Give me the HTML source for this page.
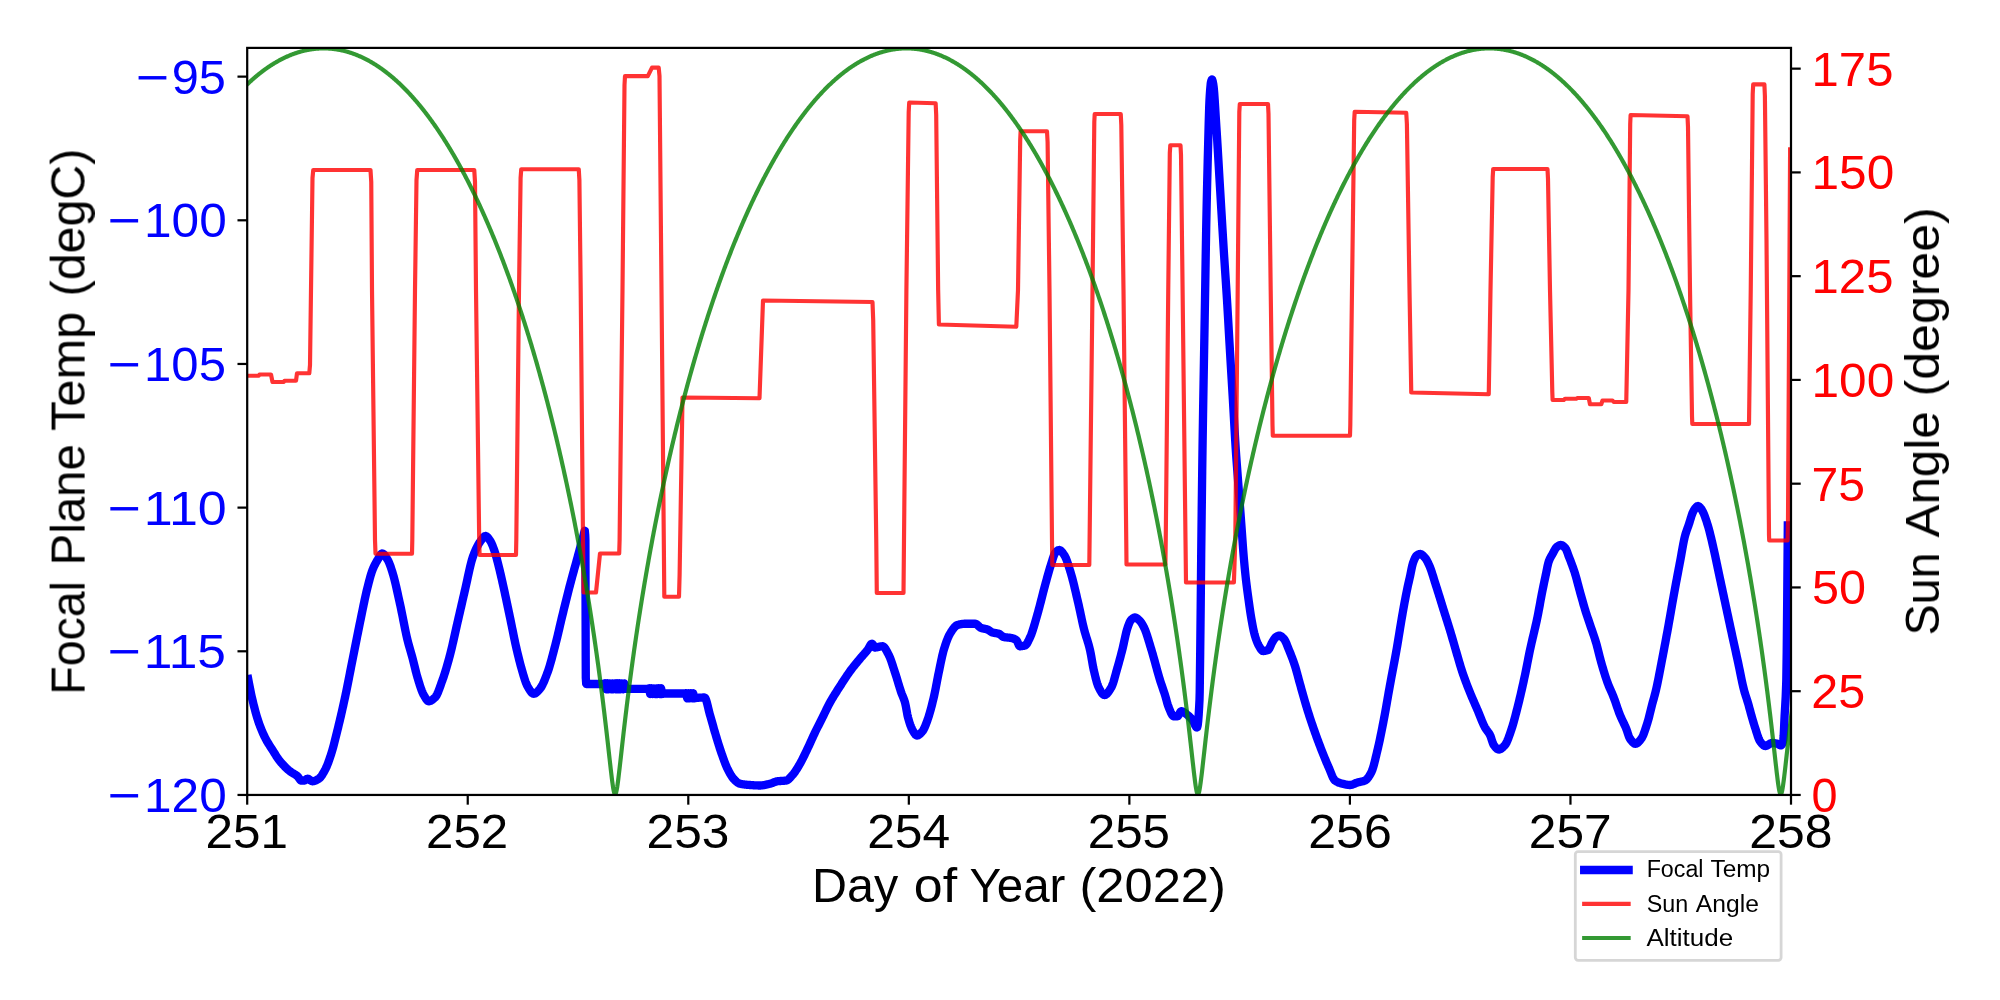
<!DOCTYPE html>
<html><head><meta charset="utf-8"><title>Focal Plane Temp</title>
<style>
html,body{margin:0;padding:0;background:#fff;}
body{width:2000px;height:1000px;overflow:hidden;}
svg{display:block;font-family:"Liberation Sans",sans-serif;}
</style></head><body>
<svg width="2000" height="1000" viewBox="0 0 2000 1000">
<rect x="0" y="0" width="2000" height="1000" fill="#fff"/>
<defs><clipPath id="ax"><rect x="247.20" y="47.90" width="1543.80" height="747.05"/></clipPath></defs>

<g clip-path="url(#ax)" fill="none" stroke-linejoin="round" stroke-linecap="square">
<path d="M248.20,679.00 L248.70,681.68 L249.20,684.32 L249.70,686.90 L250.20,689.42 L250.70,691.86 L251.20,694.24 L251.70,696.53 L252.20,698.73 L252.50,700.00 L252.70,700.83 L253.20,702.89 L253.70,704.91 L254.20,706.89 L254.70,708.82 L255.20,710.71 L255.70,712.54 L256.20,714.32 L256.70,716.05 L257.20,717.72 L257.70,719.33 L258.20,720.88 L258.70,722.36 L258.75,722.50 L259.20,723.78 L259.70,725.16 L260.20,726.50 L260.70,727.80 L261.20,729.06 L261.70,730.28 L262.20,731.47 L262.70,732.62 L263.20,733.74 L263.70,734.83 L264.20,735.88 L264.70,736.90 L265.00,737.50 L265.20,737.89 L265.70,738.85 L266.20,739.78 L266.70,740.68 L267.20,741.55 L267.70,742.40 L268.20,743.23 L268.70,744.04 L269.20,744.84 L269.70,745.63 L270.20,746.42 L270.70,747.19 L271.20,747.97 L271.70,748.75 L272.20,749.53 L272.50,750.00 L272.70,750.32 L273.20,751.11 L273.70,751.91 L274.20,752.72 L274.70,753.52 L275.20,754.32 L275.70,755.11 L276.20,755.89 L276.70,756.66 L277.20,757.42 L277.70,758.16 L278.20,758.88 L278.70,759.57 L279.20,760.24 L279.70,760.88 L280.00,761.25 L280.20,761.49 L280.70,762.09 L281.20,762.67 L281.70,763.25 L282.20,763.81 L282.70,764.36 L283.20,764.91 L283.70,765.44 L284.20,765.96 L284.70,766.47 L285.20,766.97 L285.70,767.46 L286.20,767.94 L286.70,768.41 L287.20,768.87 L287.70,769.32 L288.20,769.76 L288.70,770.19 L289.20,770.60 L289.70,771.01 L290.00,771.25 L290.20,771.41 L290.70,771.78 L291.20,772.12 L291.70,772.45 L292.20,772.76 L292.70,773.07 L293.20,773.36 L293.70,773.65 L294.20,773.95 L294.70,774.25 L295.20,774.56 L295.70,774.89 L296.20,775.23 L296.70,775.60 L297.20,776.00 L297.50,776.25 L297.70,776.44 L298.20,777.04 L298.70,777.76 L299.20,778.52 L299.70,779.25 L300.20,779.87 L300.70,780.31 L301.20,780.50 L301.25,780.50 L301.70,780.50 L302.20,780.50 L302.70,780.50 L303.20,780.50 L303.70,780.50 L304.20,780.50 L304.50,780.50 L304.70,780.48 L305.20,780.26 L305.70,779.88 L306.20,779.45 L306.70,779.06 L307.20,778.80 L307.50,778.75 L307.70,778.76 L308.20,778.88 L308.70,779.11 L309.20,779.42 L309.70,779.78 L310.20,780.15 L310.70,780.51 L311.20,780.83 L311.70,781.08 L312.20,781.22 L312.50,781.25 L312.70,781.25 L313.20,781.21 L313.70,781.12 L314.20,781.01 L314.70,780.85 L315.20,780.67 L315.70,780.45 L316.20,780.21 L316.70,779.96 L317.20,779.68 L317.70,779.39 L318.20,779.09 L318.70,778.78 L318.75,778.75 L319.20,778.43 L319.70,778.00 L320.20,777.49 L320.70,776.91 L321.20,776.27 L321.70,775.57 L322.20,774.82 L322.70,774.02 L323.20,773.19 L323.70,772.33 L324.20,771.44 L324.70,770.54 L325.00,770.00 L325.20,769.63 L325.70,768.64 L326.20,767.58 L326.70,766.45 L327.20,765.25 L327.70,763.98 L328.20,762.66 L328.70,761.30 L329.20,759.88 L329.70,758.43 L330.20,756.95 L330.70,755.44 L331.20,753.90 L331.25,753.75 L331.70,752.32 L332.20,750.66 L332.70,748.91 L333.20,747.10 L333.70,745.23 L334.20,743.30 L334.70,741.34 L335.20,739.34 L335.70,737.32 L336.20,735.29 L336.70,733.25 L337.20,731.22 L337.50,730.00 L337.70,729.19 L338.20,727.15 L338.70,725.10 L339.20,723.02 L339.70,720.93 L340.20,718.82 L340.70,716.68 L341.20,714.53 L341.70,712.36 L342.20,710.17 L342.70,707.95 L343.20,705.72 L343.70,703.46 L344.20,701.19 L344.70,698.89 L345.00,697.50 L345.20,696.57 L345.70,694.21 L346.20,691.80 L346.70,689.36 L347.20,686.89 L347.70,684.39 L348.20,681.88 L348.70,679.34 L349.20,676.79 L349.70,674.23 L350.20,671.67 L350.70,669.12 L351.20,666.57 L351.70,664.03 L352.20,661.50 L352.50,660.00 L352.70,659.00 L353.20,656.49 L353.70,653.97 L354.20,651.45 L354.70,648.92 L355.20,646.39 L355.70,643.87 L356.20,641.34 L356.70,638.82 L357.20,636.31 L357.70,633.81 L358.20,631.32 L358.70,628.85 L359.20,626.39 L359.70,623.95 L360.00,622.50 L360.20,621.53 L360.70,619.10 L361.20,616.65 L361.70,614.19 L362.20,611.74 L362.70,609.28 L363.20,606.85 L363.70,604.43 L364.20,602.04 L364.70,599.69 L365.20,597.38 L365.70,595.11 L366.20,592.91 L366.70,590.77 L367.20,588.70 L367.50,587.50 L367.70,586.71 L368.20,584.73 L368.70,582.77 L369.20,580.84 L369.70,578.96 L370.20,577.15 L370.70,575.40 L371.20,573.75 L371.70,572.21 L372.20,570.79 L372.50,570.00 L372.70,569.50 L373.20,568.28 L373.70,567.14 L374.20,566.05 L374.70,565.01 L375.20,564.03 L375.70,563.09 L376.20,562.19 L376.70,561.32 L377.20,560.49 L377.50,560.00 L377.70,559.67 L378.20,558.80 L378.70,557.90 L379.20,556.99 L379.70,556.11 L380.20,555.31 L380.70,554.61 L381.20,554.05 L381.70,553.67 L382.20,553.51 L382.30,553.50 L382.70,553.56 L383.20,553.77 L383.70,554.13 L384.20,554.61 L384.70,555.20 L385.20,555.87 L385.70,556.61 L386.20,557.39 L386.70,558.20 L387.20,559.02 L387.50,559.50 L387.70,559.83 L388.20,560.76 L388.70,561.81 L389.20,562.97 L389.70,564.23 L390.20,565.57 L390.70,566.99 L391.20,568.47 L391.70,570.00 L392.20,571.55 L392.50,572.50 L392.70,573.14 L393.20,574.83 L393.70,576.62 L394.20,578.50 L394.70,580.47 L395.20,582.52 L395.70,584.63 L396.20,586.80 L396.70,589.01 L397.20,591.25 L397.70,593.52 L398.20,595.81 L398.70,598.10 L399.20,600.38 L399.70,602.65 L400.00,604.00 L400.20,604.90 L400.70,607.22 L401.20,609.61 L401.70,612.05 L402.20,614.54 L402.70,617.06 L403.20,619.59 L403.70,622.13 L404.20,624.65 L404.70,627.15 L405.20,629.60 L405.70,632.01 L406.20,634.34 L406.70,636.60 L407.20,638.76 L407.50,640.00 L407.70,640.81 L408.20,642.75 L408.70,644.62 L409.20,646.42 L409.70,648.17 L410.20,649.90 L410.70,651.61 L411.20,653.34 L411.70,655.09 L412.20,656.89 L412.50,658.00 L412.70,658.76 L413.20,660.70 L413.70,662.71 L414.20,664.75 L414.70,666.81 L415.20,668.86 L415.70,670.87 L416.20,672.83 L416.70,674.71 L417.20,676.49 L417.50,677.50 L417.70,678.16 L418.20,679.80 L418.70,681.44 L419.20,683.06 L419.70,684.65 L420.20,686.20 L420.70,687.70 L421.20,689.13 L421.70,690.49 L422.20,691.76 L422.70,692.93 L423.20,693.98 L423.70,694.91 L423.75,695.00 L424.20,695.78 L424.70,696.65 L425.20,697.52 L425.70,698.35 L426.20,699.12 L426.70,699.80 L427.20,700.39 L427.70,700.84 L428.20,701.13 L428.70,701.25 L428.75,701.25 L429.20,701.22 L429.70,701.13 L430.20,700.98 L430.70,700.78 L431.20,700.52 L431.70,700.22 L432.20,699.88 L432.70,699.51 L433.20,699.11 L433.70,698.68 L434.20,698.24 L434.70,697.78 L435.00,697.50 L435.20,697.30 L435.70,696.69 L436.20,695.95 L436.70,695.07 L437.20,694.09 L437.70,693.00 L438.20,691.82 L438.70,690.57 L439.20,689.26 L439.70,687.90 L440.20,686.50 L440.70,685.09 L441.20,683.66 L441.70,682.24 L442.20,680.83 L442.50,680.00 L442.70,679.45 L443.20,678.03 L443.70,676.57 L444.20,675.06 L444.70,673.51 L445.20,671.92 L445.70,670.29 L446.20,668.63 L446.70,666.93 L447.20,665.20 L447.70,663.44 L448.20,661.65 L448.70,659.83 L449.20,657.99 L449.70,656.13 L450.00,655.00 L450.20,654.24 L450.70,652.29 L451.20,650.28 L451.70,648.21 L452.20,646.09 L452.70,643.93 L453.20,641.73 L453.70,639.50 L454.20,637.26 L454.70,635.00 L455.20,632.74 L455.70,630.49 L456.20,628.24 L456.70,626.01 L457.20,623.81 L457.50,622.50 L457.70,621.63 L458.20,619.46 L458.70,617.29 L459.20,615.12 L459.70,612.95 L460.20,610.78 L460.70,608.61 L461.20,606.44 L461.70,604.27 L462.20,602.10 L462.70,599.93 L463.20,597.77 L463.70,595.60 L464.20,593.45 L464.70,591.29 L465.00,590.00 L465.20,589.13 L465.70,586.92 L466.20,584.66 L466.70,582.36 L467.20,580.03 L467.70,577.70 L468.20,575.38 L468.70,573.08 L469.20,570.82 L469.70,568.61 L470.20,566.48 L470.70,564.43 L471.20,562.48 L471.70,560.65 L472.20,558.95 L472.50,558.00 L472.70,557.39 L473.20,555.93 L473.70,554.54 L474.20,553.22 L474.70,551.98 L475.20,550.80 L475.70,549.67 L476.20,548.61 L476.50,548.00 L476.70,547.60 L477.20,546.62 L477.70,545.68 L478.20,544.78 L478.70,543.91 L479.20,543.08 L479.70,542.30 L480.20,541.57 L480.70,540.88 L481.00,540.50 L481.20,540.25 L481.70,539.58 L482.20,538.90 L482.70,538.24 L483.20,537.61 L483.70,537.04 L484.20,536.58 L484.70,536.23 L485.20,536.03 L485.50,536.00 L485.70,536.01 L486.20,536.16 L486.70,536.46 L487.20,536.88 L487.70,537.41 L488.20,538.01 L488.70,538.67 L489.20,539.37 L489.70,540.08 L490.00,540.50 L490.20,540.79 L490.70,541.62 L491.20,542.58 L491.70,543.65 L492.20,544.81 L492.70,546.06 L493.20,547.38 L493.70,548.74 L494.20,550.15 L494.50,551.00 L494.70,551.58 L495.20,553.13 L495.70,554.80 L496.20,556.58 L496.70,558.43 L497.20,560.35 L497.70,562.32 L498.20,564.31 L498.70,566.31 L499.00,567.50 L499.20,568.30 L499.70,570.34 L500.20,572.43 L500.70,574.57 L501.20,576.75 L501.70,578.95 L502.20,581.17 L502.50,582.50 L502.70,583.39 L503.20,585.64 L503.70,587.90 L504.20,590.19 L504.70,592.49 L505.20,594.81 L505.70,597.15 L506.20,599.49 L506.70,601.85 L507.20,604.21 L507.70,606.58 L508.20,608.96 L508.70,611.33 L509.20,613.71 L509.70,616.08 L510.00,617.50 L510.20,618.45 L510.70,620.86 L511.20,623.29 L511.70,625.75 L512.20,628.23 L512.70,630.70 L513.20,633.17 L513.70,635.62 L514.20,638.05 L514.70,640.44 L515.20,642.78 L515.70,645.06 L516.20,647.28 L516.25,647.50 L516.70,649.45 L517.20,651.60 L517.70,653.72 L518.20,655.81 L518.70,657.86 L519.20,659.87 L519.70,661.82 L520.20,663.72 L520.70,665.56 L521.20,667.33 L521.25,667.50 L521.70,669.06 L522.20,670.81 L522.70,672.56 L523.20,674.30 L523.70,676.01 L524.20,677.66 L524.70,679.26 L525.20,680.77 L525.70,682.19 L526.20,683.49 L526.70,684.67 L527.20,685.71 L527.50,686.25 L527.70,686.59 L528.20,687.46 L528.70,688.32 L529.20,689.16 L529.70,689.97 L530.20,690.73 L530.70,691.44 L531.20,692.08 L531.70,692.63 L532.20,693.09 L532.70,693.44 L533.20,693.66 L533.70,693.75 L533.75,693.75 L534.20,693.71 L534.70,693.58 L535.20,693.37 L535.70,693.08 L536.20,692.72 L536.70,692.31 L537.20,691.84 L537.70,691.34 L538.20,690.81 L538.70,690.25 L539.20,689.68 L539.70,689.10 L540.00,688.75 L540.20,688.51 L540.70,687.85 L541.20,687.09 L541.70,686.25 L542.20,685.33 L542.70,684.34 L543.20,683.28 L543.70,682.17 L544.20,681.00 L544.70,679.79 L545.20,678.54 L545.70,677.26 L546.20,675.96 L546.70,674.64 L547.20,673.30 L547.50,672.50 L547.70,671.96 L548.20,670.54 L548.70,669.05 L549.20,667.48 L549.70,665.84 L550.20,664.15 L550.70,662.40 L551.20,660.61 L551.70,658.78 L552.20,656.92 L552.70,655.04 L553.20,653.14 L553.70,651.22 L554.20,649.31 L554.70,647.39 L555.00,646.25 L555.20,645.48 L555.70,643.54 L556.20,641.54 L556.70,639.51 L557.20,637.44 L557.70,635.35 L558.20,633.23 L558.70,631.10 L559.20,628.96 L559.70,626.81 L560.20,624.67 L560.70,622.53 L561.20,620.41 L561.70,618.31 L562.20,616.23 L562.50,615.00 L562.70,614.18 L563.20,612.14 L563.70,610.10 L564.20,608.07 L564.70,606.03 L565.20,604.00 L565.70,601.98 L566.20,599.96 L566.70,597.95 L567.20,595.96 L567.70,593.97 L568.20,591.99 L568.70,590.03 L569.20,588.08 L569.70,586.15 L570.00,585.00 L570.20,584.24 L570.70,582.34 L571.20,580.47 L571.70,578.61 L572.20,576.76 L572.70,574.93 L573.20,573.10 L573.70,571.29 L574.20,569.48 L574.70,567.67 L575.20,565.86 L575.70,564.05 L576.20,562.24 L576.70,560.43 L577.20,558.60 L577.50,557.50 L577.70,556.76 L578.20,554.92 L578.70,553.08 L579.20,551.23 L579.70,549.38 L580.20,547.52 L580.70,545.67 L581.20,543.83 L581.70,541.98 L582.20,540.15 L582.70,538.32 L583.20,536.49 L583.70,534.68 L583.75,534.50 L584.20,532.49 L584.70,530.81 L584.80,530.75 L585.20,534.81 L585.40,540.00 L585.70,655.68 L585.80,678.00 L586.20,683.76 L586.30,684.00 L586.70,684.00 L587.20,684.00 L587.70,684.00 L588.20,684.00 L588.70,684.00 L589.20,684.00 L589.70,684.00 L590.20,684.00 L590.70,684.00 L591.20,684.00 L591.70,684.00 L592.20,684.00 L592.70,684.00 L593.20,684.00 L593.70,684.00 L594.20,684.00 L594.70,684.00 L595.20,684.00 L595.70,684.00 L596.20,684.00 L596.70,684.00 L597.20,684.00 L597.70,684.00 L598.20,684.00 L598.70,684.00 L599.20,684.00 L599.70,684.00 L600.20,684.00 L600.70,684.00 L601.20,684.00 L601.70,684.00 L602.20,684.00 L602.70,684.00 L603.20,684.00 L603.70,684.00 L604.00,684.00 L604.20,683.93 L604.70,683.45 L605.00,683.30 L605.20,683.74 L605.70,687.04 L606.20,689.30 L606.70,687.04 L607.20,683.74 L607.40,683.30 L607.70,684.24 L608.20,687.74 L608.60,689.30 L608.70,689.18 L609.20,686.30 L609.70,683.42 L609.80,683.30 L610.20,684.86 L610.70,688.36 L611.00,689.30 L611.20,688.86 L611.70,685.56 L612.20,683.30 L612.20,683.30 L612.70,685.56 L613.20,688.86 L613.40,689.30 L613.70,688.36 L614.20,684.86 L614.60,683.30 L614.70,683.42 L615.20,686.30 L615.70,689.18 L615.80,689.30 L616.20,687.74 L616.70,684.24 L617.00,683.30 L617.20,683.74 L617.70,687.04 L618.20,689.30 L618.20,689.30 L618.70,687.04 L619.20,683.74 L619.40,683.30 L619.70,684.24 L620.20,687.74 L620.60,689.30 L620.70,689.18 L621.20,686.30 L621.70,683.42 L621.80,683.30 L622.20,684.86 L622.70,688.36 L623.00,689.30 L623.20,688.86 L623.70,685.56 L624.20,683.30 L624.20,683.30 L624.70,684.34 L625.20,686.51 L625.70,688.39 L626.00,688.80 L626.20,688.80 L626.70,688.80 L627.20,688.80 L627.70,688.80 L628.20,688.80 L628.70,688.80 L629.20,688.80 L629.70,688.80 L630.20,688.80 L630.70,688.80 L631.20,688.80 L631.70,688.80 L632.20,688.80 L632.70,688.80 L633.20,688.80 L633.70,688.80 L634.20,688.80 L634.70,688.80 L635.20,688.80 L635.70,688.80 L636.20,688.80 L636.70,688.80 L637.20,688.80 L637.70,688.80 L638.20,688.80 L638.70,688.80 L639.20,688.80 L639.70,688.80 L640.20,688.80 L640.70,688.80 L641.20,688.80 L641.70,688.80 L642.20,688.80 L642.70,688.80 L643.20,688.80 L643.70,688.80 L644.20,688.80 L644.70,688.80 L645.20,688.80 L645.70,688.80 L646.20,688.80 L646.70,688.80 L647.20,688.80 L647.70,688.80 L648.00,688.80 L648.20,688.75 L648.70,688.41 L649.00,688.30 L649.20,688.72 L649.70,691.86 L650.20,694.00 L650.70,691.86 L651.20,688.72 L651.40,688.30 L651.70,689.19 L652.20,692.52 L652.60,694.00 L652.70,693.89 L653.20,691.15 L653.70,688.41 L653.80,688.30 L654.20,689.78 L654.70,693.11 L655.00,694.00 L655.20,693.58 L655.70,690.44 L656.20,688.30 L656.20,688.30 L656.70,690.44 L657.20,693.58 L657.40,694.00 L657.70,693.11 L658.20,689.78 L658.60,688.30 L658.70,688.41 L659.20,691.15 L659.70,693.89 L659.80,694.00 L660.20,692.52 L660.70,689.19 L661.00,688.30 L661.20,688.72 L661.70,691.86 L662.20,694.00 L662.20,694.00 L662.70,693.91 L663.20,693.71 L663.70,693.54 L664.00,693.50 L664.20,693.50 L664.70,693.50 L665.20,693.50 L665.70,693.50 L666.20,693.50 L666.70,693.50 L667.20,693.50 L667.70,693.50 L668.20,693.50 L668.70,693.50 L669.20,693.50 L669.70,693.50 L670.20,693.50 L670.70,693.50 L671.20,693.50 L671.70,693.50 L672.20,693.50 L672.70,693.50 L673.20,693.50 L673.70,693.50 L674.20,693.50 L674.70,693.50 L675.20,693.50 L675.70,693.50 L676.20,693.50 L676.70,693.50 L677.20,693.50 L677.70,693.50 L678.20,693.50 L678.70,693.50 L679.20,693.50 L679.70,693.50 L680.20,693.50 L680.70,693.50 L681.20,693.50 L681.70,693.50 L682.20,693.50 L682.70,693.50 L683.20,693.50 L683.70,693.50 L684.20,693.50 L684.70,693.50 L685.00,693.50 L685.20,693.47 L685.70,693.26 L686.00,693.20 L686.20,693.58 L686.70,696.38 L687.20,698.30 L687.70,696.38 L688.20,693.58 L688.40,693.20 L688.70,694.00 L689.20,696.98 L689.60,698.30 L689.70,698.20 L690.20,695.75 L690.70,693.30 L690.80,693.20 L691.20,694.52 L691.70,697.50 L692.00,698.30 L692.20,697.92 L692.70,695.12 L693.20,693.20 L693.20,693.20 L693.70,695.12 L694.20,697.92 L694.40,698.30 L694.70,698.28 L695.20,698.17 L695.70,698.05 L696.00,698.00 L696.20,697.98 L696.70,697.93 L697.20,697.88 L697.70,697.84 L698.20,697.79 L698.70,697.75 L699.20,697.71 L699.70,697.68 L700.20,697.65 L700.70,697.61 L701.20,697.59 L701.70,697.56 L702.20,697.54 L702.70,697.53 L703.20,697.51 L703.70,697.51 L704.20,697.50 L704.50,697.50 L704.70,697.54 L705.20,698.02 L705.70,698.95 L706.20,700.27 L706.70,701.90 L707.20,703.76 L707.70,705.78 L708.20,707.89 L708.70,710.00 L709.20,712.05 L709.70,713.95 L710.00,715.00 L710.20,715.67 L710.70,717.38 L711.20,719.12 L711.70,720.89 L712.20,722.67 L712.70,724.46 L713.20,726.24 L713.70,728.02 L714.20,729.77 L714.70,731.49 L715.00,732.50 L715.20,733.17 L715.70,734.85 L716.20,736.52 L716.70,738.19 L717.20,739.84 L717.70,741.49 L718.20,743.12 L718.70,744.73 L719.20,746.31 L719.70,747.87 L720.20,749.40 L720.70,750.90 L721.20,752.36 L721.25,752.50 L721.70,753.79 L722.20,755.23 L722.70,756.65 L723.20,758.06 L723.70,759.46 L724.20,760.82 L724.70,762.16 L725.20,763.45 L725.70,764.71 L726.20,765.91 L726.70,767.05 L727.20,768.13 L727.50,768.75 L727.70,769.15 L728.20,770.14 L728.70,771.12 L729.20,772.07 L729.70,773.00 L730.20,773.90 L730.70,774.76 L731.20,775.58 L731.70,776.36 L732.20,777.09 L732.70,777.77 L733.20,778.39 L733.70,778.95 L733.75,779.00 L734.20,779.47 L734.70,779.98 L735.20,780.48 L735.70,780.96 L736.20,781.43 L736.70,781.86 L737.20,782.27 L737.70,782.64 L738.20,782.97 L738.70,783.26 L739.20,783.49 L739.70,783.67 L740.00,783.75 L740.20,783.79 L740.70,783.90 L741.20,784.00 L741.70,784.10 L742.20,784.18 L742.70,784.26 L743.20,784.34 L743.70,784.41 L744.20,784.47 L744.70,784.54 L745.20,784.59 L745.70,784.65 L746.20,784.69 L746.70,784.74 L747.20,784.79 L747.70,784.83 L748.20,784.87 L748.70,784.91 L749.20,784.94 L749.70,784.98 L750.00,785.00 L750.20,785.01 L750.70,785.05 L751.20,785.09 L751.70,785.12 L752.20,785.16 L752.70,785.19 L753.20,785.23 L753.70,785.26 L754.20,785.29 L754.70,785.32 L755.20,785.35 L755.70,785.38 L756.20,785.40 L756.70,785.42 L757.20,785.44 L757.70,785.46 L758.20,785.48 L758.70,785.49 L759.20,785.50 L759.70,785.50 L760.00,785.50 L760.20,785.50 L760.70,785.49 L761.20,785.46 L761.70,785.42 L762.20,785.37 L762.70,785.31 L763.20,785.24 L763.70,785.16 L764.20,785.07 L764.70,784.98 L765.20,784.87 L765.70,784.77 L766.20,784.66 L766.70,784.54 L767.20,784.42 L767.70,784.30 L768.20,784.18 L768.70,784.06 L769.20,783.94 L769.70,783.82 L770.00,783.75 L770.20,783.70 L770.70,783.56 L771.20,783.40 L771.70,783.23 L772.20,783.04 L772.70,782.84 L773.20,782.64 L773.70,782.43 L774.20,782.23 L774.70,782.03 L775.20,781.85 L775.70,781.68 L776.20,781.53 L776.70,781.40 L777.20,781.30 L777.50,781.25 L777.70,781.22 L778.20,781.16 L778.70,781.11 L779.20,781.07 L779.70,781.03 L780.20,781.00 L780.70,780.97 L781.20,780.94 L781.70,780.91 L782.20,780.89 L782.70,780.86 L783.20,780.83 L783.70,780.79 L784.20,780.75 L784.70,780.70 L785.20,780.65 L785.70,780.58 L786.20,780.51 L786.25,780.50 L786.70,780.39 L787.20,780.18 L787.70,779.89 L788.20,779.54 L788.70,779.12 L789.20,778.66 L789.70,778.15 L790.20,777.61 L790.70,777.05 L791.20,776.48 L791.70,775.90 L792.20,775.33 L792.50,775.00 L792.70,774.78 L793.20,774.19 L793.70,773.57 L794.20,772.92 L794.70,772.24 L795.20,771.53 L795.70,770.79 L796.20,770.03 L796.70,769.25 L797.20,768.45 L797.70,767.63 L798.20,766.80 L798.70,765.96 L799.20,765.12 L799.70,764.26 L800.00,763.75 L800.20,763.40 L800.70,762.52 L801.20,761.60 L801.70,760.66 L802.20,759.70 L802.70,758.72 L803.20,757.71 L803.70,756.70 L804.20,755.67 L804.70,754.63 L805.20,753.58 L805.70,752.53 L806.20,751.47 L806.70,750.42 L807.20,749.38 L807.50,748.75 L807.70,748.33 L808.20,747.28 L808.70,746.21 L809.20,745.13 L809.70,744.04 L810.20,742.94 L810.70,741.84 L811.20,740.74 L811.70,739.63 L812.20,738.53 L812.70,737.43 L813.20,736.34 L813.70,735.26 L814.20,734.18 L814.70,733.13 L815.00,732.50 L815.20,732.08 L815.70,731.05 L816.20,730.03 L816.70,729.02 L817.20,728.01 L817.70,727.01 L818.20,726.02 L818.70,725.02 L819.20,724.03 L819.70,723.05 L820.20,722.06 L820.70,721.07 L821.20,720.09 L821.70,719.09 L822.20,718.10 L822.50,717.50 L822.70,717.10 L823.20,716.09 L823.70,715.07 L824.20,714.04 L824.70,713.01 L825.20,711.98 L825.70,710.94 L826.20,709.92 L826.70,708.90 L827.20,707.88 L827.70,706.88 L828.20,705.89 L828.70,704.92 L829.20,703.97 L829.70,703.05 L830.00,702.50 L830.20,702.14 L830.70,701.25 L831.20,700.38 L831.70,699.51 L832.20,698.66 L832.70,697.82 L833.20,696.99 L833.70,696.17 L834.20,695.36 L834.70,694.55 L835.20,693.75 L835.70,692.96 L836.20,692.17 L836.70,691.39 L837.20,690.61 L837.70,689.83 L838.20,689.05 L838.70,688.27 L839.20,687.50 L839.70,686.72 L840.00,686.25 L840.20,685.94 L840.70,685.16 L841.20,684.38 L841.70,683.60 L842.20,682.82 L842.70,682.04 L843.20,681.27 L843.70,680.49 L844.20,679.73 L844.70,678.96 L845.20,678.20 L845.70,677.45 L846.20,676.70 L846.70,675.95 L847.20,675.22 L847.70,674.49 L848.20,673.77 L848.70,673.06 L849.20,672.35 L849.70,671.66 L850.00,671.25 L850.20,670.98 L850.70,670.30 L851.20,669.64 L851.70,668.98 L852.20,668.33 L852.70,667.69 L853.20,667.05 L853.70,666.42 L854.20,665.79 L854.70,665.17 L855.20,664.56 L855.70,663.94 L856.20,663.33 L856.70,662.73 L857.20,662.12 L857.70,661.52 L858.20,660.92 L858.70,660.31 L859.20,659.71 L859.70,659.11 L860.00,658.75 L860.20,658.51 L860.70,657.92 L861.20,657.34 L861.70,656.76 L862.20,656.19 L862.70,655.63 L863.20,655.06 L863.70,654.50 L864.20,653.93 L864.70,653.36 L865.20,652.79 L865.70,652.20 L866.20,651.61 L866.70,651.00 L867.20,650.38 L867.50,650.00 L867.70,649.73 L868.20,648.96 L868.70,648.08 L869.20,647.16 L869.70,646.25 L870.20,645.40 L870.70,644.67 L871.20,644.12 L871.70,643.81 L872.00,643.75 L872.20,643.80 L872.70,644.27 L873.20,645.07 L873.70,646.00 L874.20,646.84 L874.70,647.39 L875.00,647.50 L875.20,647.50 L875.70,647.47 L876.20,647.41 L876.70,647.34 L877.20,647.24 L877.70,647.13 L878.20,647.01 L878.70,646.89 L879.20,646.76 L879.70,646.64 L880.20,646.53 L880.70,646.43 L881.20,646.35 L881.70,646.29 L882.20,646.26 L882.50,646.25 L882.70,646.26 L883.20,646.42 L883.70,646.75 L884.20,647.21 L884.70,647.80 L885.20,648.50 L885.70,649.29 L886.20,650.15 L886.70,651.07 L887.20,652.02 L887.70,652.99 L888.20,653.95 L888.70,654.91 L888.75,655.00 L889.20,655.89 L889.70,657.00 L890.20,658.21 L890.70,659.52 L891.20,660.91 L891.70,662.36 L892.20,663.85 L892.70,665.39 L893.20,666.95 L893.70,668.51 L894.20,670.06 L894.70,671.60 L895.00,672.50 L895.20,673.10 L895.70,674.64 L896.20,676.23 L896.70,677.85 L897.20,679.50 L897.70,681.16 L898.20,682.83 L898.70,684.49 L899.20,686.13 L899.70,687.75 L900.20,689.34 L900.70,690.87 L901.20,692.36 L901.25,692.50 L901.70,693.74 L902.20,695.00 L902.70,696.19 L903.20,697.38 L903.70,698.63 L904.20,699.97 L904.70,701.49 L905.00,702.50 L905.20,703.26 L905.70,705.56 L906.20,708.25 L906.70,711.09 L907.20,713.85 L907.70,716.29 L908.00,717.50 L908.20,718.22 L908.70,719.97 L909.20,721.64 L909.70,723.22 L910.20,724.70 L910.70,726.07 L911.20,727.33 L911.70,728.46 L912.20,729.47 L912.50,730.00 L912.70,730.34 L913.20,731.21 L913.70,732.06 L914.20,732.88 L914.70,733.63 L915.20,734.30 L915.70,734.84 L916.20,735.24 L916.70,735.46 L917.00,735.50 L917.20,735.49 L917.70,735.40 L918.20,735.22 L918.70,734.95 L919.20,734.62 L919.70,734.22 L920.20,733.76 L920.70,733.26 L921.20,732.73 L921.70,732.17 L922.20,731.60 L922.50,731.25 L922.70,731.00 L923.20,730.28 L923.70,729.41 L924.20,728.42 L924.70,727.32 L925.20,726.13 L925.70,724.87 L926.20,723.55 L926.70,722.20 L927.20,720.82 L927.50,720.00 L927.70,719.44 L928.20,717.99 L928.70,716.46 L929.20,714.86 L929.70,713.18 L930.20,711.43 L930.70,709.62 L931.20,707.75 L931.70,705.83 L932.20,703.86 L932.70,701.85 L933.20,699.80 L933.70,697.71 L933.75,697.50 L934.20,695.53 L934.70,693.20 L935.20,690.75 L935.70,688.20 L936.20,685.59 L936.70,682.95 L937.20,680.32 L937.70,677.71 L938.20,675.18 L938.70,672.74 L938.75,672.50 L939.20,670.34 L939.70,667.91 L940.20,665.45 L940.70,663.01 L941.20,660.61 L941.70,658.27 L942.20,656.03 L942.70,653.92 L943.20,651.95 L943.70,650.17 L943.75,650.00 L944.20,648.52 L944.70,646.91 L945.20,645.36 L945.70,643.85 L946.20,642.40 L946.70,641.02 L947.20,639.70 L947.70,638.45 L948.20,637.28 L948.70,636.18 L949.20,635.17 L949.70,634.26 L950.00,633.75 L950.20,633.42 L950.70,632.62 L951.20,631.82 L951.70,631.04 L952.20,630.28 L952.70,629.54 L953.20,628.84 L953.70,628.18 L954.20,627.57 L954.70,627.00 L955.20,626.49 L955.70,626.04 L956.20,625.65 L956.70,625.34 L957.20,625.10 L957.50,625.00 L957.70,624.94 L958.20,624.80 L958.70,624.67 L959.20,624.54 L959.70,624.42 L960.20,624.31 L960.70,624.20 L961.20,624.11 L961.70,624.03 L962.20,623.95 L962.70,623.89 L963.20,623.84 L963.70,623.80 L964.20,623.77 L964.70,623.75 L965.00,623.75 L965.20,623.75 L965.70,623.75 L966.20,623.75 L966.70,623.75 L967.20,623.75 L967.70,623.75 L968.20,623.75 L968.70,623.75 L969.20,623.75 L969.70,623.75 L970.20,623.75 L970.70,623.75 L971.20,623.75 L971.70,623.75 L972.20,623.75 L972.70,623.75 L973.20,623.75 L973.70,623.75 L974.20,623.75 L974.70,623.75 L975.00,623.75 L975.20,623.76 L975.70,623.87 L976.20,624.09 L976.70,624.40 L977.20,624.78 L977.70,625.21 L978.20,625.67 L978.70,626.14 L979.20,626.60 L979.70,627.03 L980.20,627.42 L980.70,627.74 L981.20,627.98 L981.25,628.00 L981.70,628.15 L982.20,628.29 L982.70,628.42 L983.20,628.53 L983.70,628.63 L984.20,628.72 L984.70,628.82 L985.20,628.91 L985.70,629.01 L986.20,629.12 L986.70,629.25 L987.20,629.40 L987.50,629.50 L987.70,629.58 L988.20,629.81 L988.70,630.11 L989.20,630.45 L989.70,630.81 L990.20,631.17 L990.70,631.53 L991.20,631.87 L991.70,632.16 L992.20,632.39 L992.50,632.50 L992.70,632.56 L993.20,632.69 L993.70,632.80 L994.20,632.90 L994.70,632.98 L995.20,633.06 L995.70,633.13 L996.20,633.20 L996.70,633.28 L997.20,633.37 L997.70,633.47 L998.20,633.59 L998.70,633.73 L998.75,633.75 L999.20,633.93 L999.70,634.22 L1000.20,634.57 L1000.70,634.97 L1001.20,635.38 L1001.70,635.80 L1002.20,636.19 L1002.70,636.53 L1003.20,636.81 L1003.70,636.99 L1003.75,637.00 L1004.20,637.10 L1004.70,637.19 L1005.20,637.27 L1005.70,637.34 L1006.20,637.40 L1006.70,637.45 L1007.20,637.50 L1007.70,637.54 L1008.20,637.59 L1008.70,637.63 L1009.20,637.69 L1009.70,637.75 L1010.20,637.82 L1010.70,637.90 L1011.20,637.99 L1011.25,638.00 L1011.70,638.10 L1012.20,638.22 L1012.70,638.36 L1013.20,638.52 L1013.70,638.69 L1014.20,638.90 L1014.70,639.12 L1015.20,639.37 L1015.70,639.65 L1016.20,639.97 L1016.25,640.00 L1016.70,640.48 L1017.20,641.35 L1017.70,642.44 L1018.20,643.61 L1018.70,644.71 L1019.20,645.61 L1019.70,646.15 L1020.00,646.25 L1020.20,646.25 L1020.70,646.23 L1021.20,646.20 L1021.70,646.15 L1022.20,646.09 L1022.70,646.01 L1023.20,645.92 L1023.70,645.82 L1024.20,645.71 L1024.70,645.58 L1025.00,645.50 L1025.20,645.43 L1025.70,645.11 L1026.20,644.60 L1026.70,643.94 L1027.20,643.15 L1027.70,642.25 L1028.20,641.28 L1028.70,640.25 L1029.20,639.19 L1029.70,638.13 L1030.00,637.50 L1030.20,637.08 L1030.70,635.93 L1031.20,634.69 L1031.70,633.34 L1032.20,631.91 L1032.70,630.40 L1033.20,628.82 L1033.70,627.19 L1034.20,625.51 L1034.70,623.80 L1035.20,622.06 L1035.70,620.30 L1036.20,618.54 L1036.70,616.78 L1037.20,615.04 L1037.50,614.00 L1037.70,613.31 L1038.20,611.54 L1038.70,609.72 L1039.20,607.86 L1039.70,605.97 L1040.20,604.04 L1040.70,602.10 L1041.20,600.14 L1041.70,598.17 L1042.20,596.20 L1042.70,594.24 L1043.20,592.29 L1043.70,590.36 L1044.20,588.46 L1044.70,586.60 L1045.00,585.50 L1045.20,584.77 L1045.70,582.94 L1046.20,581.10 L1046.70,579.26 L1047.20,577.43 L1047.70,575.61 L1048.20,573.81 L1048.70,572.04 L1049.20,570.31 L1049.70,568.63 L1050.20,566.99 L1050.70,565.41 L1051.00,564.50 L1051.20,563.89 L1051.70,562.31 L1052.20,560.70 L1052.70,559.10 L1053.20,557.55 L1053.70,556.10 L1054.20,554.81 L1054.70,553.72 L1055.20,552.87 L1055.50,552.50 L1055.70,552.29 L1056.20,551.79 L1056.70,551.31 L1057.20,550.89 L1057.70,550.53 L1058.20,550.26 L1058.70,550.07 L1059.20,550.00 L1059.25,550.00 L1059.70,550.06 L1060.20,550.26 L1060.70,550.59 L1061.20,551.03 L1061.70,551.56 L1062.20,552.17 L1062.70,552.84 L1063.20,553.55 L1063.70,554.29 L1064.20,555.05 L1064.50,555.50 L1064.70,555.81 L1065.20,556.71 L1065.70,557.75 L1066.20,558.92 L1066.70,560.20 L1067.20,561.58 L1067.70,563.04 L1068.20,564.57 L1068.70,566.15 L1069.20,567.76 L1069.70,569.39 L1070.20,571.03 L1070.50,572.00 L1070.70,572.65 L1071.20,574.35 L1071.70,576.11 L1072.20,577.95 L1072.70,579.85 L1073.20,581.80 L1073.70,583.81 L1074.20,585.85 L1074.70,587.93 L1075.20,590.03 L1075.70,592.16 L1076.20,594.30 L1076.70,596.44 L1077.20,598.59 L1077.70,600.72 L1078.00,602.00 L1078.20,602.86 L1078.70,605.05 L1079.20,607.31 L1079.70,609.62 L1080.20,611.96 L1080.70,614.32 L1081.20,616.67 L1081.70,619.00 L1082.20,621.30 L1082.70,623.54 L1083.20,625.71 L1083.70,627.80 L1084.00,629.00 L1084.20,629.78 L1084.70,631.63 L1085.20,633.38 L1085.70,635.06 L1086.20,636.68 L1086.70,638.28 L1087.20,639.87 L1087.70,641.49 L1088.20,643.16 L1088.70,644.91 L1089.20,646.76 L1089.70,648.74 L1090.00,650.00 L1090.20,650.89 L1090.70,653.37 L1091.20,656.10 L1091.70,658.99 L1092.20,661.91 L1092.70,664.76 L1093.20,667.42 L1093.70,669.78 L1093.75,670.00 L1094.20,671.92 L1094.70,674.03 L1095.20,676.11 L1095.70,678.12 L1096.20,680.03 L1096.70,681.83 L1097.20,683.50 L1097.70,684.99 L1098.20,686.30 L1098.70,687.40 L1098.75,687.50 L1099.20,688.37 L1099.70,689.32 L1100.20,690.25 L1100.70,691.14 L1101.20,691.97 L1101.70,692.74 L1102.20,693.42 L1102.70,694.00 L1103.20,694.46 L1103.70,694.79 L1104.20,694.97 L1104.50,695.00 L1104.70,694.99 L1105.20,694.88 L1105.70,694.66 L1106.20,694.34 L1106.70,693.93 L1107.20,693.44 L1107.70,692.87 L1108.20,692.23 L1108.70,691.54 L1109.20,690.80 L1109.70,690.03 L1110.20,689.23 L1110.70,688.41 L1111.20,687.58 L1111.25,687.50 L1111.70,686.66 L1112.20,685.54 L1112.70,684.24 L1113.20,682.78 L1113.70,681.19 L1114.20,679.50 L1114.70,677.73 L1115.20,675.90 L1115.70,674.04 L1116.20,672.18 L1116.70,670.34 L1117.20,668.55 L1117.50,667.50 L1117.70,666.81 L1118.20,665.07 L1118.70,663.30 L1119.20,661.50 L1119.70,659.68 L1120.20,657.83 L1120.70,655.96 L1121.20,654.06 L1121.70,652.14 L1122.20,650.20 L1122.25,650.00 L1122.70,648.17 L1123.20,646.01 L1123.70,643.76 L1124.20,641.45 L1124.70,639.14 L1125.20,636.86 L1125.70,634.65 L1126.20,632.57 L1126.70,630.64 L1127.20,628.92 L1127.50,628.00 L1127.70,627.42 L1128.20,625.98 L1128.70,624.59 L1129.20,623.29 L1129.70,622.12 L1130.20,621.13 L1130.70,620.35 L1131.00,620.00 L1131.20,619.80 L1131.70,619.32 L1132.20,618.88 L1132.70,618.47 L1133.20,618.12 L1133.70,617.84 L1134.20,617.63 L1134.70,617.52 L1135.00,617.50 L1135.20,617.51 L1135.70,617.61 L1136.20,617.81 L1136.70,618.09 L1137.20,618.44 L1137.70,618.84 L1138.20,619.28 L1138.70,619.74 L1139.20,620.22 L1139.50,620.50 L1139.70,620.69 L1140.20,621.24 L1140.70,621.86 L1141.20,622.56 L1141.70,623.32 L1142.20,624.15 L1142.70,625.02 L1143.20,625.94 L1143.70,626.91 L1144.00,627.50 L1144.20,627.91 L1144.70,629.01 L1145.20,630.21 L1145.70,631.51 L1146.20,632.89 L1146.70,634.34 L1147.20,635.86 L1147.70,637.43 L1148.20,639.04 L1148.70,640.68 L1149.20,642.35 L1149.70,644.02 L1150.20,645.70 L1150.70,647.37 L1151.20,649.02 L1151.50,650.00 L1151.70,650.65 L1152.20,652.32 L1152.70,654.02 L1153.20,655.77 L1153.70,657.54 L1154.20,659.34 L1154.70,661.16 L1155.20,663.00 L1155.70,664.83 L1156.20,666.67 L1156.70,668.51 L1157.20,670.33 L1157.70,672.13 L1158.20,673.90 L1158.70,675.65 L1159.20,677.36 L1159.70,679.02 L1160.00,680.00 L1160.20,680.64 L1160.70,682.20 L1161.20,683.72 L1161.70,685.20 L1162.20,686.66 L1162.70,688.11 L1163.20,689.57 L1163.70,691.04 L1164.20,692.53 L1164.70,694.06 L1165.00,695.00 L1165.20,695.65 L1165.70,697.36 L1166.20,699.17 L1166.70,701.00 L1167.20,702.81 L1167.70,704.51 L1168.20,706.06 L1168.70,707.38 L1168.75,707.50 L1169.20,708.57 L1169.70,709.78 L1170.20,710.98 L1170.70,712.14 L1171.20,713.23 L1171.70,714.20 L1172.20,715.02 L1172.70,715.66 L1173.20,716.08 L1173.70,716.25 L1173.75,716.25 L1174.20,716.25 L1174.70,716.25 L1175.20,716.25 L1175.70,716.25 L1176.20,716.25 L1176.70,716.25 L1177.20,716.25 L1177.50,716.25 L1177.70,716.21 L1178.20,715.79 L1178.70,715.04 L1179.20,714.10 L1179.70,713.11 L1180.20,712.21 L1180.70,711.54 L1181.20,711.25 L1181.25,711.25 L1181.70,711.28 L1182.20,711.39 L1182.70,711.57 L1183.20,711.80 L1183.70,712.08 L1184.20,712.41 L1184.70,712.77 L1185.20,713.15 L1185.70,713.56 L1186.20,713.96 L1186.70,714.37 L1187.20,714.77 L1187.50,715.00 L1187.70,715.15 L1188.20,715.55 L1188.70,715.98 L1189.20,716.42 L1189.70,716.89 L1190.20,717.39 L1190.70,717.91 L1191.20,718.46 L1191.70,719.03 L1192.20,719.63 L1192.50,720.00 L1192.70,720.27 L1193.20,721.11 L1193.70,722.13 L1194.20,723.23 L1194.70,724.35 L1195.20,725.40 L1195.70,726.32 L1196.20,727.02 L1196.70,727.43 L1197.00,727.50 L1197.20,727.32 L1197.70,725.27 L1198.20,721.00 L1198.70,714.59 L1199.20,706.08 L1199.50,700.00 L1199.70,692.21 L1200.20,652.53 L1200.50,625.00 L1200.70,606.07 L1201.20,554.59 L1201.25,550.00 L1201.70,511.14 L1202.20,471.68 L1202.50,450.00 L1202.70,436.36 L1203.20,404.49 L1203.70,374.86 L1204.20,346.32 L1204.70,317.69 L1205.00,300.00 L1205.20,287.74 L1205.70,256.36 L1206.20,227.56 L1206.25,225.00 L1206.70,203.35 L1207.20,181.48 L1207.70,161.40 L1208.00,150.00 L1208.20,142.36 L1208.70,123.13 L1209.20,106.79 L1209.50,100.00 L1209.70,96.57 L1210.20,89.08 L1210.70,83.79 L1211.00,82.00 L1211.20,81.23 L1211.70,79.79 L1212.00,79.50 L1212.20,79.67 L1212.70,81.24 L1213.20,83.74 L1213.25,84.00 L1213.70,87.35 L1214.20,92.99 L1214.70,100.10 L1215.20,108.07 L1215.70,116.32 L1216.20,124.25 L1216.25,125.00 L1216.70,131.91 L1217.20,139.93 L1217.70,148.24 L1218.20,156.73 L1218.70,165.33 L1219.20,173.94 L1219.70,182.46 L1220.00,187.50 L1220.20,190.84 L1220.70,199.24 L1221.20,207.68 L1221.70,216.12 L1222.20,224.53 L1222.70,232.87 L1223.20,241.11 L1223.70,249.20 L1223.75,250.00 L1224.20,257.08 L1224.70,264.73 L1225.20,272.25 L1225.70,279.77 L1226.20,287.38 L1226.70,295.18 L1227.00,300.00 L1227.20,303.28 L1227.70,311.72 L1228.20,320.38 L1228.70,329.15 L1229.20,337.92 L1229.70,346.59 L1229.90,350.00 L1230.20,355.06 L1230.70,363.41 L1231.20,371.69 L1231.70,379.96 L1232.20,388.25 L1232.70,396.62 L1232.90,400.00 L1233.20,405.16 L1233.70,414.01 L1234.20,422.97 L1234.70,431.85 L1235.20,440.42 L1235.70,448.47 L1235.80,450.00 L1236.20,455.87 L1236.70,462.78 L1237.20,469.42 L1237.70,476.00 L1238.00,480.00 L1238.20,482.69 L1238.70,489.40 L1239.20,496.07 L1239.70,502.72 L1240.20,509.36 L1240.70,516.00 L1241.00,520.00 L1241.20,522.69 L1241.70,529.59 L1242.20,536.58 L1242.70,543.51 L1243.20,550.20 L1243.70,556.49 L1244.00,560.00 L1244.20,562.24 L1244.70,567.59 L1245.20,572.61 L1245.70,577.32 L1246.00,580.00 L1246.20,581.73 L1246.70,585.85 L1247.20,589.76 L1247.70,593.50 L1248.20,597.13 L1248.60,600.00 L1248.70,600.72 L1249.20,604.30 L1249.70,607.84 L1250.20,611.29 L1250.70,614.59 L1251.20,617.70 L1251.60,620.00 L1251.70,620.55 L1252.20,623.29 L1252.70,625.94 L1253.20,628.47 L1253.70,630.84 L1254.20,633.02 L1254.70,634.96 L1255.00,636.00 L1255.20,636.65 L1255.70,638.21 L1256.20,639.68 L1256.70,641.04 L1257.20,642.31 L1257.70,643.47 L1258.20,644.53 L1258.70,645.48 L1259.00,646.00 L1259.20,646.34 L1259.70,647.20 L1260.20,648.06 L1260.70,648.88 L1261.20,649.62 L1261.70,650.23 L1262.20,650.69 L1262.70,650.95 L1263.00,651.00 L1263.20,651.00 L1263.70,650.98 L1264.20,650.94 L1264.70,650.87 L1265.20,650.79 L1265.70,650.69 L1266.20,650.57 L1266.70,650.43 L1267.20,650.28 L1267.70,650.11 L1268.00,650.00 L1268.20,649.90 L1268.70,649.42 L1269.20,648.68 L1269.70,647.74 L1270.20,646.66 L1270.70,645.52 L1271.20,644.37 L1271.70,643.28 L1272.20,642.33 L1272.40,642.00 L1272.70,641.52 L1273.20,640.70 L1273.70,639.87 L1274.20,639.08 L1274.70,638.35 L1275.20,637.72 L1275.70,637.22 L1276.00,637.00 L1276.20,636.87 L1276.70,636.57 L1277.20,636.28 L1277.70,636.03 L1278.20,635.83 L1278.70,635.68 L1279.20,635.61 L1279.40,635.60 L1279.70,635.62 L1280.20,635.75 L1280.70,635.97 L1281.20,636.28 L1281.70,636.67 L1282.20,637.11 L1282.70,637.60 L1283.20,638.13 L1283.70,638.67 L1284.00,639.00 L1284.20,639.24 L1284.70,639.95 L1285.20,640.83 L1285.70,641.85 L1286.20,642.97 L1286.70,644.17 L1287.20,645.43 L1287.70,646.72 L1288.20,648.01 L1288.70,649.27 L1289.00,650.00 L1289.20,650.48 L1289.70,651.69 L1290.20,652.92 L1290.70,654.16 L1291.20,655.42 L1291.70,656.71 L1292.20,658.02 L1292.70,659.36 L1293.20,660.74 L1293.70,662.15 L1294.20,663.60 L1294.70,665.08 L1295.00,666.00 L1295.20,666.62 L1295.70,668.25 L1296.20,669.97 L1296.70,671.76 L1297.20,673.59 L1297.70,675.46 L1298.20,677.35 L1298.70,679.23 L1299.20,681.10 L1299.70,682.93 L1300.00,684.00 L1300.20,684.71 L1300.70,686.48 L1301.20,688.26 L1301.70,690.04 L1302.20,691.82 L1302.70,693.59 L1303.20,695.36 L1303.70,697.12 L1304.20,698.88 L1304.70,700.61 L1305.20,702.34 L1305.70,704.04 L1306.20,705.73 L1306.70,707.39 L1307.20,709.03 L1307.50,710.00 L1307.70,710.64 L1308.20,712.24 L1308.70,713.81 L1309.20,715.37 L1309.70,716.92 L1310.20,718.45 L1310.70,719.97 L1311.20,721.47 L1311.70,722.96 L1312.20,724.44 L1312.70,725.90 L1313.20,727.35 L1313.70,728.80 L1314.20,730.23 L1314.70,731.65 L1315.00,732.50 L1315.20,733.06 L1315.70,734.47 L1316.20,735.86 L1316.70,737.24 L1317.20,738.60 L1317.70,739.96 L1318.20,741.31 L1318.70,742.65 L1319.20,743.98 L1319.70,745.29 L1320.20,746.60 L1320.70,747.90 L1321.20,749.19 L1321.70,750.47 L1322.20,751.74 L1322.50,752.50 L1322.70,753.00 L1323.20,754.26 L1323.70,755.51 L1324.20,756.75 L1324.70,757.98 L1325.20,759.20 L1325.70,760.41 L1326.20,761.61 L1326.70,762.79 L1327.20,763.97 L1327.70,765.12 L1328.20,766.26 L1328.70,767.39 L1328.75,767.50 L1329.20,768.53 L1329.70,769.74 L1330.20,770.99 L1330.70,772.26 L1331.20,773.52 L1331.70,774.75 L1332.20,775.93 L1332.70,777.03 L1333.20,778.04 L1333.70,778.93 L1334.20,779.67 L1334.70,780.24 L1335.00,780.50 L1335.20,780.64 L1335.70,780.99 L1336.20,781.30 L1336.70,781.60 L1337.20,781.87 L1337.70,782.12 L1338.20,782.35 L1338.70,782.56 L1339.20,782.76 L1339.70,782.94 L1340.20,783.11 L1340.70,783.27 L1341.20,783.41 L1341.70,783.55 L1342.20,783.68 L1342.50,783.75 L1342.70,783.80 L1343.20,783.92 L1343.70,784.04 L1344.20,784.16 L1344.70,784.27 L1345.20,784.39 L1345.70,784.49 L1346.20,784.59 L1346.70,784.68 L1347.20,784.77 L1347.70,784.84 L1348.20,784.90 L1348.70,784.95 L1349.20,784.98 L1349.70,785.00 L1350.00,785.00 L1350.20,785.00 L1350.70,784.96 L1351.20,784.88 L1351.70,784.76 L1352.20,784.62 L1352.70,784.45 L1353.20,784.25 L1353.70,784.05 L1354.20,783.83 L1354.70,783.61 L1355.20,783.39 L1355.70,783.17 L1356.20,782.96 L1356.70,782.77 L1357.20,782.59 L1357.50,782.50 L1357.70,782.44 L1358.20,782.31 L1358.70,782.18 L1359.20,782.07 L1359.70,781.96 L1360.20,781.86 L1360.70,781.76 L1361.20,781.66 L1361.70,781.55 L1362.20,781.43 L1362.70,781.30 L1363.20,781.16 L1363.70,781.00 L1364.20,780.83 L1364.70,780.63 L1365.00,780.50 L1365.20,780.40 L1365.70,780.10 L1366.20,779.73 L1366.70,779.28 L1367.20,778.76 L1367.70,778.17 L1368.20,777.52 L1368.70,776.82 L1369.20,776.06 L1369.70,775.26 L1370.20,774.41 L1370.70,773.52 L1371.20,772.59 L1371.25,772.50 L1371.70,771.56 L1372.20,770.31 L1372.70,768.88 L1373.20,767.27 L1373.70,765.53 L1374.20,763.67 L1374.70,761.70 L1375.20,759.67 L1375.70,757.58 L1376.20,755.47 L1376.70,753.35 L1377.20,751.24 L1377.50,750.00 L1377.70,749.17 L1378.20,747.04 L1378.70,744.85 L1379.20,742.58 L1379.70,740.26 L1380.20,737.88 L1380.70,735.46 L1381.20,732.99 L1381.70,730.49 L1382.20,727.96 L1382.70,725.41 L1383.20,722.84 L1383.70,720.26 L1383.75,720.00 L1384.20,717.64 L1384.70,714.96 L1385.20,712.22 L1385.70,709.43 L1386.20,706.61 L1386.70,703.75 L1387.20,700.89 L1387.70,698.01 L1388.20,695.14 L1388.70,692.28 L1389.20,689.45 L1389.70,686.66 L1390.00,685.00 L1390.20,683.90 L1390.70,681.19 L1391.20,678.51 L1391.70,675.84 L1392.20,673.20 L1392.70,670.56 L1393.20,667.92 L1393.70,665.27 L1394.20,662.61 L1394.70,659.93 L1395.20,657.22 L1395.70,654.48 L1396.20,651.69 L1396.50,650.00 L1396.70,648.86 L1397.20,645.95 L1397.70,642.98 L1398.20,639.95 L1398.70,636.89 L1399.20,633.82 L1399.70,630.73 L1400.20,627.65 L1400.70,624.60 L1401.20,621.58 L1401.70,618.61 L1402.20,615.70 L1402.50,614.00 L1402.70,612.87 L1403.20,610.07 L1403.70,607.30 L1404.20,604.55 L1404.70,601.83 L1405.20,599.16 L1405.70,596.54 L1406.20,593.97 L1406.70,591.47 L1407.00,590.00 L1407.20,589.04 L1407.70,586.70 L1408.20,584.45 L1408.70,582.24 L1409.20,580.04 L1409.70,577.84 L1410.00,576.50 L1410.20,575.58 L1410.70,573.14 L1411.20,570.61 L1411.70,568.14 L1412.20,565.87 L1412.70,563.94 L1413.00,563.00 L1413.20,562.44 L1413.70,561.09 L1414.20,559.81 L1414.70,558.64 L1415.20,557.61 L1415.70,556.73 L1416.20,556.03 L1416.70,555.54 L1416.75,555.50 L1417.20,555.19 L1417.70,554.87 L1418.20,554.58 L1418.70,554.34 L1419.20,554.16 L1419.70,554.04 L1420.20,554.00 L1420.70,554.06 L1421.20,554.24 L1421.70,554.52 L1422.20,554.88 L1422.70,555.31 L1423.20,555.79 L1423.70,556.31 L1424.20,556.86 L1424.70,557.42 L1425.00,557.75 L1425.20,557.98 L1425.70,558.63 L1426.20,559.38 L1426.70,560.22 L1427.20,561.13 L1427.70,562.11 L1428.20,563.15 L1428.70,564.22 L1429.20,565.33 L1429.50,566.00 L1429.70,566.46 L1430.20,567.68 L1430.70,569.01 L1431.20,570.41 L1431.70,571.89 L1432.20,573.43 L1432.70,575.00 L1433.20,576.61 L1433.70,578.23 L1434.20,579.86 L1434.70,581.47 L1435.20,583.06 L1435.50,584.00 L1435.70,584.62 L1436.20,586.18 L1436.70,587.75 L1437.20,589.33 L1437.70,590.92 L1438.20,592.52 L1438.70,594.13 L1439.20,595.74 L1439.70,597.35 L1440.20,598.97 L1440.70,600.59 L1441.20,602.20 L1441.70,603.82 L1442.20,605.43 L1442.70,607.04 L1443.00,608.00 L1443.20,608.64 L1443.70,610.23 L1444.20,611.82 L1444.70,613.41 L1445.20,614.99 L1445.70,616.57 L1446.20,618.15 L1446.70,619.73 L1447.20,621.32 L1447.70,622.91 L1448.20,624.51 L1448.70,626.12 L1449.20,627.74 L1449.70,629.37 L1450.20,631.01 L1450.50,632.00 L1450.70,632.67 L1451.20,634.35 L1451.70,636.04 L1452.20,637.76 L1452.70,639.48 L1453.20,641.22 L1453.70,642.95 L1454.20,644.69 L1454.70,646.41 L1455.20,648.13 L1455.70,649.83 L1455.75,650.00 L1456.20,651.53 L1456.70,653.24 L1457.20,654.97 L1457.70,656.69 L1458.20,658.42 L1458.70,660.14 L1459.20,661.85 L1459.70,663.55 L1460.20,665.22 L1460.70,666.87 L1461.20,668.49 L1461.70,670.06 L1462.20,671.60 L1462.50,672.50 L1462.70,673.09 L1463.20,674.55 L1463.70,675.98 L1464.20,677.39 L1464.70,678.78 L1465.20,680.14 L1465.70,681.49 L1466.20,682.82 L1466.70,684.13 L1467.20,685.43 L1467.70,686.71 L1468.20,687.98 L1468.70,689.25 L1469.20,690.50 L1469.70,691.75 L1470.00,692.50 L1470.20,693.00 L1470.70,694.22 L1471.20,695.43 L1471.70,696.62 L1472.20,697.80 L1472.70,698.97 L1473.20,700.13 L1473.70,701.28 L1474.20,702.43 L1474.70,703.57 L1475.20,704.71 L1475.70,705.85 L1476.20,707.00 L1476.70,708.15 L1477.20,709.30 L1477.50,710.00 L1477.70,710.47 L1478.20,711.66 L1478.70,712.89 L1479.20,714.13 L1479.70,715.38 L1480.20,716.63 L1480.70,717.88 L1481.20,719.13 L1481.70,720.35 L1482.20,721.55 L1482.70,722.72 L1483.20,723.85 L1483.70,724.94 L1484.20,725.97 L1484.70,726.95 L1485.00,727.50 L1485.20,727.85 L1485.70,728.67 L1486.20,729.41 L1486.70,730.10 L1487.20,730.77 L1487.70,731.42 L1488.20,732.10 L1488.70,732.81 L1489.20,733.58 L1489.70,734.44 L1490.00,735.00 L1490.20,735.42 L1490.70,736.67 L1491.20,738.14 L1491.70,739.71 L1492.20,741.28 L1492.70,742.75 L1493.20,744.00 L1493.70,744.93 L1493.75,745.00 L1494.20,745.62 L1494.70,746.28 L1495.20,746.92 L1495.70,747.52 L1496.20,748.06 L1496.70,748.53 L1497.20,748.93 L1497.70,749.23 L1498.20,749.42 L1498.70,749.50 L1498.75,749.50 L1499.20,749.47 L1499.70,749.36 L1500.20,749.17 L1500.70,748.92 L1501.20,748.61 L1501.70,748.25 L1502.20,747.85 L1502.70,747.40 L1503.20,746.92 L1503.70,746.41 L1504.20,745.88 L1504.70,745.33 L1505.00,745.00 L1505.20,744.77 L1505.70,744.07 L1506.20,743.22 L1506.70,742.25 L1507.20,741.15 L1507.70,739.96 L1508.20,738.69 L1508.70,737.34 L1509.20,735.95 L1509.70,734.51 L1510.20,733.06 L1510.70,731.60 L1511.20,730.14 L1511.25,730.00 L1511.70,728.67 L1512.20,727.11 L1512.70,725.48 L1513.20,723.78 L1513.70,722.02 L1514.20,720.21 L1514.70,718.35 L1515.20,716.46 L1515.70,714.54 L1516.20,712.60 L1516.70,710.64 L1517.20,708.68 L1517.50,707.50 L1517.70,706.71 L1518.20,704.72 L1518.70,702.70 L1519.20,700.65 L1519.70,698.57 L1520.20,696.46 L1520.70,694.33 L1521.20,692.16 L1521.70,689.98 L1522.20,687.77 L1522.70,685.53 L1523.20,683.28 L1523.70,681.00 L1524.20,678.71 L1524.70,676.40 L1525.00,675.00 L1525.20,674.06 L1525.70,671.65 L1526.20,669.17 L1526.70,666.63 L1527.20,664.07 L1527.70,661.49 L1528.20,658.92 L1528.70,656.37 L1529.20,653.87 L1529.70,651.43 L1530.00,650.00 L1530.20,649.07 L1530.70,646.77 L1531.20,644.54 L1531.70,642.35 L1532.20,640.20 L1532.70,638.07 L1533.20,635.96 L1533.70,633.86 L1534.20,631.75 L1534.70,629.63 L1535.20,627.48 L1535.70,625.30 L1536.20,623.07 L1536.70,620.79 L1537.20,618.44 L1537.50,617.00 L1537.70,616.02 L1538.20,613.48 L1538.70,610.84 L1539.20,608.13 L1539.70,605.38 L1540.20,602.62 L1540.70,599.87 L1541.20,597.17 L1541.70,594.53 L1542.00,593.00 L1542.20,591.99 L1542.70,589.51 L1543.20,587.06 L1543.70,584.65 L1544.20,582.26 L1544.70,579.90 L1545.20,577.56 L1545.70,575.23 L1545.75,575.00 L1546.20,572.83 L1546.70,570.32 L1547.20,567.81 L1547.70,565.44 L1548.20,563.34 L1548.70,561.64 L1548.75,561.50 L1549.20,560.31 L1549.70,559.13 L1550.20,558.08 L1550.70,557.13 L1551.20,556.24 L1551.70,555.38 L1552.20,554.53 L1552.50,554.00 L1552.70,553.64 L1553.20,552.71 L1553.70,551.76 L1554.20,550.81 L1554.70,549.89 L1555.20,549.03 L1555.70,548.26 L1556.20,547.59 L1556.70,547.05 L1557.00,546.80 L1557.20,546.65 L1557.70,546.30 L1558.20,545.96 L1558.70,545.66 L1559.20,545.40 L1559.70,545.19 L1560.20,545.05 L1560.70,545.00 L1560.75,545.00 L1561.20,545.04 L1561.70,545.18 L1562.20,545.40 L1562.70,545.69 L1563.20,546.05 L1563.70,546.47 L1564.20,546.93 L1564.70,547.43 L1565.20,547.95 L1565.25,548.00 L1565.70,548.61 L1566.20,549.54 L1566.70,550.70 L1567.20,552.01 L1567.70,553.40 L1568.20,554.83 L1568.70,556.21 L1569.00,557.00 L1569.20,557.51 L1569.70,558.79 L1570.20,560.07 L1570.70,561.36 L1571.20,562.66 L1571.70,563.98 L1572.20,565.33 L1572.70,566.70 L1573.20,568.11 L1573.70,569.55 L1574.20,571.03 L1574.70,572.56 L1575.00,573.50 L1575.20,574.14 L1575.70,575.82 L1576.20,577.59 L1576.70,579.44 L1577.20,581.32 L1577.70,583.24 L1578.20,585.15 L1578.70,587.05 L1579.20,588.91 L1579.50,590.00 L1579.70,590.72 L1580.20,592.52 L1580.70,594.32 L1581.20,596.12 L1581.70,597.92 L1582.20,599.71 L1582.70,601.48 L1583.20,603.24 L1583.70,604.98 L1584.20,606.69 L1584.70,608.38 L1585.20,610.03 L1585.50,611.00 L1585.70,611.64 L1586.20,613.21 L1586.70,614.74 L1587.20,616.24 L1587.70,617.73 L1588.20,619.19 L1588.70,620.66 L1589.20,622.13 L1589.70,623.60 L1590.00,624.50 L1590.20,625.10 L1590.70,626.57 L1591.20,628.03 L1591.70,629.47 L1592.20,630.91 L1592.70,632.36 L1593.20,633.81 L1593.70,635.28 L1594.20,636.78 L1594.70,638.31 L1595.20,639.88 L1595.70,641.50 L1596.00,642.50 L1596.20,643.18 L1596.70,644.96 L1597.20,646.82 L1597.70,648.75 L1598.20,650.72 L1598.70,652.72 L1599.20,654.72 L1599.70,656.70 L1600.20,658.64 L1600.70,660.52 L1601.20,662.33 L1601.25,662.50 L1601.70,664.06 L1602.20,665.79 L1602.70,667.50 L1603.20,669.20 L1603.70,670.87 L1604.20,672.51 L1604.70,674.13 L1605.20,675.71 L1605.70,677.26 L1606.20,678.77 L1606.70,680.24 L1607.20,681.67 L1607.50,682.50 L1607.70,683.04 L1608.20,684.36 L1608.70,685.61 L1609.20,686.83 L1609.70,688.00 L1610.20,689.16 L1610.70,690.29 L1611.20,691.43 L1611.70,692.56 L1612.20,693.72 L1612.70,694.90 L1613.20,696.11 L1613.70,697.37 L1613.75,697.50 L1614.20,698.69 L1614.70,700.05 L1615.20,701.46 L1615.70,702.90 L1616.20,704.36 L1616.70,705.83 L1617.20,707.30 L1617.70,708.75 L1618.20,710.19 L1618.70,711.59 L1619.20,712.95 L1619.70,714.25 L1620.00,715.00 L1620.20,715.49 L1620.70,716.67 L1621.20,717.80 L1621.70,718.90 L1622.20,719.97 L1622.70,721.02 L1623.20,722.06 L1623.70,723.10 L1624.20,724.15 L1624.70,725.21 L1625.20,726.31 L1625.70,727.45 L1626.20,728.63 L1626.25,728.75 L1626.70,729.93 L1627.20,731.39 L1627.70,732.92 L1628.20,734.46 L1628.70,735.92 L1629.20,737.21 L1629.70,738.27 L1630.00,738.75 L1630.20,739.03 L1630.70,739.72 L1631.20,740.39 L1631.70,741.02 L1632.20,741.62 L1632.70,742.16 L1633.20,742.64 L1633.70,743.05 L1634.20,743.37 L1634.70,743.60 L1635.20,743.73 L1635.50,743.75 L1635.70,743.74 L1636.20,743.64 L1636.70,743.44 L1637.20,743.16 L1637.70,742.79 L1638.20,742.35 L1638.70,741.85 L1639.20,741.30 L1639.70,740.71 L1640.20,740.10 L1640.70,739.46 L1641.20,738.81 L1641.25,738.75 L1641.70,738.10 L1642.20,737.24 L1642.70,736.24 L1643.20,735.12 L1643.70,733.88 L1644.20,732.56 L1644.70,731.15 L1645.20,729.68 L1645.70,728.16 L1646.20,726.61 L1646.70,725.03 L1647.20,723.45 L1647.50,722.50 L1647.70,721.86 L1648.20,720.14 L1648.70,718.29 L1649.20,716.35 L1649.70,714.33 L1650.20,712.27 L1650.70,710.21 L1651.20,708.16 L1651.70,706.16 L1652.00,705.00 L1652.20,704.24 L1652.70,702.39 L1653.20,700.59 L1653.70,698.79 L1654.20,696.99 L1654.70,695.15 L1655.20,693.25 L1655.70,691.25 L1656.00,690.00 L1656.20,689.14 L1656.70,686.92 L1657.20,684.61 L1657.70,682.21 L1658.20,679.75 L1658.70,677.22 L1659.20,674.65 L1659.70,672.05 L1660.20,669.43 L1660.70,666.80 L1661.20,664.17 L1661.70,661.55 L1662.00,660.00 L1662.20,658.97 L1662.70,656.37 L1663.20,653.76 L1663.70,651.14 L1664.20,648.50 L1664.70,645.85 L1665.20,643.18 L1665.70,640.50 L1666.20,637.81 L1666.70,635.10 L1667.20,632.38 L1667.70,629.65 L1668.00,628.00 L1668.20,626.90 L1668.70,624.11 L1669.20,621.30 L1669.70,618.46 L1670.20,615.60 L1670.70,612.73 L1671.20,609.85 L1671.70,606.98 L1672.20,604.11 L1672.70,601.27 L1673.20,598.45 L1673.70,595.66 L1674.00,594.00 L1674.20,592.90 L1674.70,590.17 L1675.20,587.46 L1675.70,584.77 L1676.20,582.09 L1676.70,579.42 L1677.20,576.77 L1677.70,574.12 L1678.20,571.48 L1678.70,568.84 L1679.20,566.21 L1679.70,563.58 L1680.00,562.00 L1680.20,560.94 L1680.70,558.21 L1681.20,555.40 L1681.70,552.57 L1682.20,549.74 L1682.70,546.96 L1683.20,544.28 L1683.70,541.72 L1684.20,539.34 L1684.70,537.18 L1685.00,536.00 L1685.20,535.26 L1685.70,533.53 L1686.20,531.95 L1686.70,530.47 L1687.20,529.06 L1687.70,527.68 L1688.20,526.30 L1688.70,524.88 L1689.00,524.00 L1689.20,523.39 L1689.70,521.80 L1690.20,520.16 L1690.70,518.50 L1691.20,516.88 L1691.70,515.33 L1692.20,513.91 L1692.70,512.65 L1693.00,512.00 L1693.20,511.60 L1693.70,510.65 L1694.20,509.78 L1694.70,509.01 L1695.20,508.34 L1695.50,508.00 L1695.70,507.78 L1696.20,507.23 L1696.70,506.71 L1697.20,506.30 L1697.70,506.05 L1698.00,506.00 L1698.20,506.02 L1698.70,506.23 L1699.20,506.62 L1699.70,507.12 L1700.20,507.67 L1700.50,508.00 L1700.70,508.22 L1701.20,508.87 L1701.70,509.63 L1702.20,510.49 L1702.70,511.42 L1703.00,512.00 L1703.20,512.40 L1703.70,513.49 L1704.20,514.68 L1704.70,515.96 L1705.20,517.32 L1705.70,518.76 L1706.20,520.25 L1706.70,521.80 L1707.20,523.39 L1707.70,525.02 L1708.00,526.00 L1708.20,526.67 L1708.70,528.41 L1709.20,530.25 L1709.70,532.16 L1710.20,534.15 L1710.70,536.20 L1711.20,538.29 L1711.70,540.41 L1712.20,542.56 L1712.70,544.71 L1713.00,546.00 L1713.20,546.86 L1713.70,549.07 L1714.20,551.32 L1714.70,553.61 L1715.20,555.94 L1715.70,558.30 L1716.20,560.68 L1716.70,563.07 L1717.20,565.46 L1717.70,567.85 L1718.20,570.23 L1718.70,572.59 L1719.00,574.00 L1719.20,574.93 L1719.70,577.27 L1720.20,579.60 L1720.70,581.93 L1721.20,584.27 L1721.70,586.60 L1722.20,588.93 L1722.70,591.27 L1723.20,593.60 L1723.70,595.93 L1724.20,598.27 L1724.70,600.60 L1725.00,602.00 L1725.20,602.93 L1725.70,605.27 L1726.20,607.61 L1726.70,609.95 L1727.20,612.29 L1727.70,614.63 L1728.20,616.97 L1728.70,619.31 L1729.20,621.64 L1729.70,623.97 L1730.20,626.29 L1730.70,628.61 L1731.00,630.00 L1731.20,630.92 L1731.70,633.22 L1732.20,635.52 L1732.70,637.80 L1733.20,640.08 L1733.70,642.36 L1734.20,644.64 L1734.70,646.91 L1735.20,649.18 L1735.70,651.46 L1736.20,653.74 L1736.70,656.02 L1737.20,658.32 L1737.70,660.62 L1738.00,662.00 L1738.20,662.93 L1738.70,665.30 L1739.20,667.73 L1739.70,670.20 L1740.20,672.68 L1740.70,675.15 L1741.20,677.60 L1741.70,680.01 L1742.20,682.36 L1742.70,684.63 L1743.20,686.79 L1743.70,688.84 L1744.00,690.00 L1744.20,690.75 L1744.70,692.51 L1745.20,694.17 L1745.70,695.75 L1746.20,697.29 L1746.70,698.82 L1747.20,700.38 L1747.70,701.99 L1748.00,703.00 L1748.20,703.69 L1748.70,705.46 L1749.20,707.27 L1749.70,709.11 L1750.20,710.96 L1750.70,712.79 L1751.20,714.59 L1751.60,716.00 L1751.70,716.35 L1752.20,718.08 L1752.70,719.81 L1753.20,721.52 L1753.70,723.20 L1754.20,724.85 L1754.70,726.45 L1755.20,728.00 L1755.70,729.55 L1756.20,731.15 L1756.70,732.77 L1757.20,734.37 L1757.70,735.90 L1758.20,737.35 L1758.70,738.66 L1759.20,739.80 L1759.70,740.75 L1760.00,741.20 L1760.20,741.47 L1760.70,742.14 L1761.20,742.79 L1761.70,743.41 L1762.20,743.99 L1762.70,744.52 L1763.20,744.98 L1763.70,745.37 L1764.20,745.68 L1764.70,745.89 L1765.20,745.99 L1765.40,746.00 L1765.70,745.98 L1766.20,745.88 L1766.70,745.70 L1767.20,745.45 L1767.70,745.16 L1768.20,744.84 L1768.70,744.50 L1769.20,744.16 L1769.70,743.84 L1770.20,743.55 L1770.70,743.30 L1771.20,743.12 L1771.70,743.02 L1772.00,743.00 L1772.20,743.00 L1772.70,743.02 L1773.20,743.05 L1773.70,743.10 L1774.20,743.16 L1774.70,743.23 L1775.20,743.31 L1775.70,743.39 L1776.20,743.48 L1776.70,743.58 L1776.80,743.60 L1777.20,743.71 L1777.70,743.92 L1778.20,744.19 L1778.70,744.48 L1779.20,744.78 L1779.70,745.04 L1780.20,745.25 L1780.70,745.38 L1781.00,745.40 L1781.20,745.36 L1781.70,744.87 L1782.20,743.87 L1782.70,742.38 L1783.20,740.44 L1783.30,740.00 L1783.70,735.40 L1784.20,724.81 L1784.60,716.00 L1784.70,714.10 L1785.20,705.77 L1785.70,696.76 L1786.20,683.48 L1786.30,680.00 L1786.70,652.48 L1787.20,600.00 L1787.70,539.17 L1787.80,525.50" stroke="#0000ff" stroke-width="8.33"/>
<path d="M244.00,375.75 L258.75,375.75 L259.50,374.50 L271.00,374.50 L272.50,382.00 L283.75,382.00 L284.50,380.75 L296.00,380.75 L297.00,373.25 L309.30,373.25 L310.00,365.00 L311.00,290.00 L312.50,178.00 L313.25,170.00 L370.50,170.00 L371.25,182.00 L372.00,290.00 L375.00,540.00 L375.50,553.75 L412.00,553.75 L412.30,540.00 L415.00,290.00 L416.50,180.00 L417.25,170.00 L474.25,170.00 L475.00,182.00 L476.00,290.00 L479.20,540.00 L479.60,555.00 L516.00,555.00 L516.30,540.00 L519.00,290.00 L520.60,178.00 L521.25,169.25 L578.75,169.25 L579.40,180.00 L580.70,290.00 L583.00,540.00 L583.60,592.50 L596.00,592.50 L600.00,553.50 L619.20,553.50 L619.60,540.00 L622.50,290.00 L624.50,85.00 L625.00,76.20 L647.80,76.20 L652.00,67.60 L658.70,67.60 L659.50,76.00 L661.50,290.00 L663.80,540.00 L664.30,596.75 L679.00,596.75 L679.60,575.00 L682.50,397.50 L759.50,398.25 L763.00,300.50 L872.50,302.00 L873.20,320.00 L876.25,540.00 L876.80,593.00 L903.50,593.00 L904.00,540.00 L906.40,290.00 L908.70,112.00 L909.20,102.50 L935.65,103.25 L936.20,115.00 L938.15,290.00 L938.90,324.50 L1016.30,326.75 L1018.00,290.00 L1020.20,140.00 L1020.60,131.25 L1047.00,131.25 L1047.60,142.00 L1049.50,290.00 L1052.00,540.00 L1052.30,565.00 L1089.30,565.00 L1089.60,540.00 L1092.50,290.00 L1094.30,122.00 L1094.70,114.00 L1120.75,114.00 L1121.30,125.00 L1123.50,290.00 L1126.25,540.00 L1126.50,564.50 L1165.40,564.50 L1165.75,540.00 L1168.25,290.00 L1169.80,153.00 L1170.30,145.25 L1180.50,145.25 L1181.00,155.00 L1182.60,290.00 L1185.50,540.00 L1186.00,582.50 L1233.90,582.50 L1235.30,540.00 L1237.70,290.00 L1239.30,112.00 L1239.80,104.00 L1268.00,104.00 L1268.50,114.00 L1270.70,290.00 L1272.50,425.00 L1272.80,435.75 L1350.00,435.75 L1350.30,425.00 L1352.00,290.00 L1354.20,120.00 L1354.70,111.75 L1406.25,112.75 L1406.90,124.00 L1409.50,290.00 L1411.25,392.50 L1488.75,394.25 L1490.50,290.00 L1492.70,177.00 L1493.20,169.00 L1547.50,169.00 L1548.00,179.00 L1550.00,290.00 L1552.30,392.00 L1552.60,400.00 L1563.75,400.00 L1565.00,398.75 L1576.25,398.75 L1577.50,398.00 L1588.75,398.00 L1590.00,404.25 L1601.25,404.25 L1602.50,400.50 L1612.50,400.50 L1613.75,402.00 L1626.25,402.00 L1628.50,290.00 L1630.20,124.00 L1630.60,115.00 L1687.50,116.25 L1688.00,127.00 L1690.00,290.00 L1692.00,416.00 L1692.30,424.00 L1749.00,424.00 L1750.75,290.00 L1752.70,94.00 L1753.20,84.40 L1764.40,84.40 L1764.90,96.00 L1766.50,240.00 L1769.00,535.00 L1769.20,540.50 L1787.60,540.50 L1788.00,520.00 L1790.10,149.30" stroke="#ff0000" stroke-opacity="0.8" stroke-width="4.17"/>
<path d="M245.20,86.26 L245.70,85.78 L246.20,85.29 L246.70,84.81 L247.20,84.33 L247.70,83.86 L248.20,83.38 L248.70,82.92 L249.20,82.45 L249.70,81.99 L250.20,81.53 L250.70,81.08 L251.20,80.62 L251.70,80.18 L252.20,79.73 L252.70,79.29 L253.20,78.85 L253.70,78.41 L254.20,77.98 L254.70,77.55 L255.20,77.13 L255.70,76.70 L256.20,76.28 L256.70,75.87 L257.20,75.46 L257.70,75.05 L258.20,74.64 L258.70,74.24 L259.20,73.84 L259.70,73.44 L260.20,73.05 L260.70,72.66 L261.20,72.27 L261.70,71.89 L262.20,71.50 L262.70,71.13 L263.20,70.75 L263.70,70.38 L264.20,70.01 L264.70,69.65 L265.20,69.29 L265.70,68.93 L266.20,68.57 L266.70,68.22 L267.20,67.87 L267.70,67.53 L268.20,67.18 L268.70,66.85 L269.20,66.51 L269.70,66.18 L270.20,65.85 L270.70,65.52 L271.20,65.20 L271.70,64.88 L272.20,64.56 L272.70,64.24 L273.20,63.93 L273.70,63.63 L274.20,63.32 L274.70,63.02 L275.20,62.72 L275.70,62.43 L276.20,62.13 L276.70,61.84 L277.20,61.56 L277.70,61.28 L278.20,61.00 L278.70,60.72 L279.20,60.45 L279.70,60.18 L280.20,59.91 L280.70,59.64 L281.20,59.38 L281.70,59.13 L282.20,58.87 L282.70,58.62 L283.20,58.37 L283.70,58.12 L284.20,57.88 L284.70,57.64 L285.20,57.41 L285.70,57.17 L286.20,56.94 L286.70,56.72 L287.20,56.49 L287.70,56.27 L288.20,56.05 L288.70,55.84 L289.20,55.63 L289.70,55.42 L290.20,55.21 L290.70,55.01 L291.20,54.81 L291.70,54.62 L292.20,54.42 L292.70,54.23 L293.20,54.05 L293.70,53.86 L294.20,53.68 L294.70,53.50 L295.20,53.33 L295.70,53.16 L296.20,52.99 L296.70,52.82 L297.20,52.66 L297.70,52.50 L298.20,52.35 L298.70,52.19 L299.20,52.04 L299.70,51.89 L300.20,51.75 L300.70,51.61 L301.20,51.47 L301.70,51.34 L302.20,51.20 L302.70,51.08 L303.20,50.95 L303.70,50.83 L304.20,50.71 L304.70,50.59 L305.20,50.48 L305.70,50.37 L306.20,50.26 L306.70,50.15 L307.20,50.05 L307.70,49.95 L308.20,49.86 L308.70,49.77 L309.20,49.68 L309.70,49.59 L310.20,49.51 L310.70,49.43 L311.20,49.35 L311.70,49.27 L312.20,49.20 L312.70,49.13 L313.20,49.07 L313.70,49.01 L314.20,48.95 L314.70,48.89 L315.20,48.84 L315.70,48.79 L316.20,48.74 L316.70,48.70 L317.20,48.66 L317.70,48.62 L318.20,48.58 L318.70,48.55 L319.20,48.52 L319.70,48.50 L320.20,48.47 L320.70,48.46 L321.20,48.44 L321.70,48.42 L322.20,48.41 L322.70,48.41 L323.20,48.40 L323.70,48.40 L324.20,48.40 L324.70,48.41 L325.20,48.41 L325.70,48.42 L326.20,48.44 L326.70,48.45 L327.20,48.47 L327.70,48.50 L328.20,48.52 L328.70,48.55 L329.20,48.58 L329.70,48.62 L330.20,48.65 L330.70,48.69 L331.20,48.74 L331.70,48.79 L332.20,48.84 L332.70,48.89 L333.20,48.94 L333.70,49.00 L334.20,49.06 L334.70,49.13 L335.20,49.20 L335.70,49.27 L336.20,49.34 L336.70,49.42 L337.20,49.50 L337.70,49.58 L338.20,49.67 L338.70,49.76 L339.20,49.85 L339.70,49.95 L340.20,50.04 L340.70,50.15 L341.20,50.25 L341.70,50.36 L342.20,50.47 L342.70,50.58 L343.20,50.70 L343.70,50.82 L344.20,50.94 L344.70,51.07 L345.20,51.19 L345.70,51.33 L346.20,51.46 L346.70,51.60 L347.20,51.74 L347.70,51.88 L348.20,52.03 L348.70,52.18 L349.20,52.33 L349.70,52.49 L350.20,52.65 L350.70,52.81 L351.20,52.98 L351.70,53.15 L352.20,53.32 L352.70,53.49 L353.20,53.67 L353.70,53.85 L354.20,54.03 L354.70,54.22 L355.20,54.41 L355.70,54.60 L356.20,54.80 L356.70,55.00 L357.20,55.20 L357.70,55.41 L358.20,55.61 L358.70,55.82 L359.20,56.04 L359.70,56.26 L360.20,56.48 L360.70,56.70 L361.20,56.93 L361.70,57.16 L362.20,57.39 L362.70,57.63 L363.20,57.87 L363.70,58.11 L364.20,58.35 L364.70,58.60 L365.20,58.85 L365.70,59.11 L366.20,59.36 L366.70,59.63 L367.20,59.89 L367.70,60.16 L368.20,60.43 L368.70,60.70 L369.20,60.98 L369.70,61.26 L370.20,61.54 L370.70,61.82 L371.20,62.11 L371.70,62.40 L372.20,62.70 L372.70,63.00 L373.20,63.30 L373.70,63.60 L374.20,63.91 L374.70,64.22 L375.20,64.54 L375.70,64.85 L376.20,65.17 L376.70,65.50 L377.20,65.82 L377.70,66.15 L378.20,66.49 L378.70,66.82 L379.20,67.16 L379.70,67.50 L380.20,67.85 L380.70,68.20 L381.20,68.55 L381.70,68.90 L382.20,69.26 L382.70,69.62 L383.20,69.99 L383.70,70.36 L384.20,70.73 L384.70,71.10 L385.20,71.48 L385.70,71.86 L386.20,72.24 L386.70,72.63 L387.20,73.02 L387.70,73.41 L388.20,73.81 L388.70,74.21 L389.20,74.61 L389.70,75.02 L390.20,75.43 L390.70,75.84 L391.20,76.26 L391.70,76.67 L392.20,77.10 L392.70,77.52 L393.20,77.95 L393.70,78.38 L394.20,78.82 L394.70,79.26 L395.20,79.70 L395.70,80.14 L396.20,80.59 L396.70,81.04 L397.20,81.50 L397.70,81.96 L398.20,82.42 L398.70,82.88 L399.20,83.35 L399.70,83.82 L400.20,84.30 L400.70,84.78 L401.20,85.26 L401.70,85.74 L402.20,86.23 L402.70,86.72 L403.20,87.21 L403.70,87.71 L404.20,88.21 L404.70,88.72 L405.20,89.23 L405.70,89.74 L406.20,90.25 L406.70,90.77 L407.20,91.29 L407.70,91.81 L408.20,92.34 L408.70,92.87 L409.20,93.41 L409.70,93.95 L410.20,94.49 L410.70,95.03 L411.20,95.58 L411.70,96.13 L412.20,96.69 L412.70,97.25 L413.20,97.81 L413.70,98.37 L414.20,98.94 L414.70,99.51 L415.20,100.09 L415.70,100.67 L416.20,101.25 L416.70,101.84 L417.20,102.43 L417.70,103.02 L418.20,103.61 L418.70,104.21 L419.20,104.82 L419.70,105.42 L420.20,106.03 L420.70,106.65 L421.20,107.26 L421.70,107.88 L422.20,108.51 L422.70,109.14 L423.20,109.77 L423.70,110.40 L424.20,111.04 L424.70,111.68 L425.20,112.33 L425.70,112.98 L426.20,113.63 L426.70,114.28 L427.20,114.94 L427.70,115.61 L428.20,116.27 L428.70,116.94 L429.20,117.62 L429.70,118.29 L430.20,118.97 L430.70,119.66 L431.20,120.35 L431.70,121.04 L432.20,121.73 L432.70,122.43 L433.20,123.13 L433.70,123.84 L434.20,124.55 L434.70,125.26 L435.20,125.98 L435.70,126.70 L436.20,127.43 L436.70,128.15 L437.20,128.89 L437.70,129.62 L438.20,130.36 L438.70,131.10 L439.20,131.85 L439.70,132.60 L440.20,133.36 L440.70,134.11 L441.20,134.88 L441.70,135.64 L442.20,136.41 L442.70,137.18 L443.20,137.96 L443.70,138.74 L444.20,139.52 L444.70,140.31 L445.20,141.11 L445.70,141.90 L446.20,142.70 L446.70,143.50 L447.20,144.31 L447.70,145.12 L448.20,145.94 L448.70,146.76 L449.20,147.58 L449.70,148.41 L450.20,149.24 L450.70,150.07 L451.20,150.91 L451.70,151.75 L452.20,152.60 L452.70,153.45 L453.20,154.30 L453.70,155.16 L454.20,156.02 L454.70,156.89 L455.20,157.76 L455.70,158.63 L456.20,159.51 L456.70,160.39 L457.20,161.28 L457.70,162.17 L458.20,163.06 L458.70,163.96 L459.20,164.86 L459.70,165.77 L460.20,166.68 L460.70,167.59 L461.20,168.51 L461.70,169.43 L462.20,170.36 L462.70,171.29 L463.20,172.23 L463.70,173.17 L464.20,174.11 L464.70,175.06 L465.20,176.01 L465.70,176.96 L466.20,177.93 L466.70,178.89 L467.20,179.86 L467.70,180.83 L468.20,181.81 L468.70,182.79 L469.20,183.78 L469.70,184.77 L470.20,185.76 L470.70,186.76 L471.20,187.76 L471.70,188.77 L472.20,189.78 L472.70,190.80 L473.20,191.82 L473.70,192.84 L474.20,193.87 L474.70,194.90 L475.20,195.94 L475.70,196.98 L476.20,198.03 L476.70,199.08 L477.20,200.14 L477.70,201.20 L478.20,202.26 L478.70,203.33 L479.20,204.41 L479.70,205.49 L480.20,206.57 L480.70,207.66 L481.20,208.75 L481.70,209.85 L482.20,210.95 L482.70,212.05 L483.20,213.17 L483.70,214.28 L484.20,215.40 L484.70,216.53 L485.20,217.66 L485.70,218.79 L486.20,219.93 L486.70,221.07 L487.20,222.22 L487.70,223.38 L488.20,224.53 L488.70,225.70 L489.20,226.86 L489.70,228.04 L490.20,229.22 L490.70,230.40 L491.20,231.59 L491.70,232.78 L492.20,233.98 L492.70,235.18 L493.20,236.39 L493.70,237.60 L494.20,238.82 L494.70,240.04 L495.20,241.27 L495.70,242.50 L496.20,243.74 L496.70,244.98 L497.20,246.23 L497.70,247.48 L498.20,248.74 L498.70,250.00 L499.20,251.27 L499.70,252.55 L500.20,253.82 L500.70,255.11 L501.20,256.40 L501.70,257.69 L502.20,259.00 L502.70,260.30 L503.20,261.61 L503.70,262.93 L504.20,264.25 L504.70,265.58 L505.20,266.91 L505.70,268.25 L506.20,269.60 L506.70,270.95 L507.20,272.30 L507.70,273.66 L508.20,275.03 L508.70,276.40 L509.20,277.78 L509.70,279.16 L510.20,280.55 L510.70,281.95 L511.20,283.35 L511.70,284.75 L512.20,286.17 L512.70,287.59 L513.20,289.01 L513.70,290.44 L514.20,291.88 L514.70,293.32 L515.20,294.77 L515.70,296.22 L516.20,297.68 L516.70,299.15 L517.20,300.62 L517.70,302.10 L518.20,303.58 L518.70,305.08 L519.20,306.57 L519.70,308.08 L520.20,309.59 L520.70,311.10 L521.20,312.63 L521.70,314.16 L522.20,315.69 L522.70,317.23 L523.20,318.78 L523.70,320.34 L524.20,321.90 L524.70,323.47 L525.20,325.04 L525.70,326.62 L526.20,328.21 L526.70,329.81 L527.20,331.41 L527.70,333.02 L528.20,334.63 L528.70,336.26 L529.20,337.89 L529.70,339.52 L530.20,341.17 L530.70,342.82 L531.20,344.47 L531.70,346.14 L532.20,347.81 L532.70,349.49 L533.20,351.18 L533.70,352.87 L534.20,354.57 L534.70,356.28 L535.20,358.00 L535.70,359.72 L536.20,361.45 L536.70,363.19 L537.20,364.94 L537.70,366.70 L538.20,368.46 L538.70,370.23 L539.20,372.01 L539.70,373.79 L540.20,375.59 L540.70,377.39 L541.20,379.20 L541.70,381.02 L542.20,382.85 L542.70,384.68 L543.20,386.52 L543.70,388.38 L544.20,390.24 L544.70,392.10 L545.20,393.98 L545.70,395.87 L546.20,397.76 L546.70,399.67 L547.20,401.58 L547.70,403.50 L548.20,405.43 L548.70,407.37 L549.20,409.32 L549.70,411.28 L550.20,413.24 L550.70,415.22 L551.20,417.21 L551.70,419.20 L552.20,421.21 L552.70,423.22 L553.20,425.24 L553.70,427.28 L554.20,429.32 L554.70,431.38 L555.20,433.44 L555.70,435.52 L556.20,437.60 L556.70,439.69 L557.20,441.80 L557.70,443.92 L558.20,446.04 L558.70,448.18 L559.20,450.33 L559.70,452.49 L560.20,454.66 L560.70,456.84 L561.20,459.03 L561.70,461.24 L562.20,463.45 L562.70,465.68 L563.20,467.92 L563.70,470.17 L564.20,472.43 L564.70,474.71 L565.20,477.00 L565.70,479.29 L566.20,481.61 L566.70,483.93 L567.20,486.27 L567.70,488.62 L568.20,490.98 L568.70,493.36 L569.20,495.75 L569.70,498.15 L570.20,500.57 L570.70,503.00 L571.20,505.45 L571.70,507.91 L572.20,510.38 L572.70,512.87 L573.20,515.37 L573.70,517.89 L574.20,520.43 L574.70,522.97 L575.20,525.54 L575.70,528.12 L576.20,530.71 L576.70,533.33 L577.20,535.95 L577.70,538.60 L578.20,541.26 L578.70,543.94 L579.20,546.64 L579.70,549.35 L580.20,552.08 L580.70,554.83 L581.20,557.60 L581.70,560.39 L582.20,563.19 L582.70,566.02 L583.20,568.86 L583.70,571.73 L584.20,574.61 L584.70,577.52 L585.20,580.44 L585.70,583.39 L586.20,586.36 L586.70,589.35 L587.20,592.37 L587.70,595.40 L588.20,598.46 L588.70,601.55 L589.20,604.66 L589.70,607.79 L590.20,610.95 L590.70,614.13 L591.20,617.34 L591.70,620.57 L592.20,623.84 L592.70,627.13 L593.20,630.45 L593.70,633.80 L594.20,637.17 L594.70,640.58 L595.20,644.02 L595.70,647.49 L596.20,650.99 L596.70,654.53 L597.20,658.10 L597.70,661.70 L598.20,665.34 L598.70,669.01 L599.20,672.73 L599.70,676.47 L600.20,680.26 L600.70,684.09 L601.20,687.96 L601.70,691.86 L602.20,695.81 L602.70,699.80 L603.20,703.84 L603.70,707.92 L604.20,712.04 L604.70,716.20 L605.20,720.41 L605.70,724.66 L606.20,728.96 L606.70,733.29 L607.20,737.66 L607.70,742.07 L608.20,746.50 L608.70,750.96 L609.20,755.43 L609.70,759.89 L610.20,764.33 L610.70,768.71 L611.20,773.02 L611.70,777.18 L612.20,781.14 L612.70,784.81 L613.20,788.07 L613.70,790.80 L614.20,792.84 L614.70,794.07 L615.12,794.40 L615.20,794.39 L615.70,793.76 L616.20,792.25 L616.70,789.97 L617.20,787.05 L617.70,783.64 L618.20,779.86 L618.70,775.83 L619.20,771.61 L619.70,767.28 L620.20,762.87 L620.70,758.42 L621.20,753.95 L621.70,749.49 L622.20,745.04 L622.70,740.61 L623.20,736.22 L623.70,731.86 L624.20,727.54 L624.70,723.26 L625.20,719.02 L625.70,714.82 L626.20,710.67 L626.70,706.57 L627.20,702.50 L627.70,698.48 L628.20,694.51 L628.70,690.57 L629.20,686.68 L629.70,682.82 L630.20,679.01 L630.70,675.23 L631.20,671.50 L631.70,667.80 L632.20,664.14 L632.70,660.51 L633.20,656.92 L633.70,653.36 L634.20,649.83 L634.70,646.34 L635.20,642.88 L635.70,639.45 L636.20,636.06 L636.70,632.69 L637.20,629.35 L637.70,626.04 L638.20,622.76 L638.70,619.50 L639.20,616.28 L639.70,613.08 L640.20,609.90 L640.70,606.75 L641.20,603.63 L641.70,600.53 L642.20,597.45 L642.70,594.40 L643.20,591.37 L643.70,588.36 L644.20,585.38 L644.70,582.42 L645.20,579.48 L645.70,576.56 L646.20,573.66 L646.70,570.78 L647.20,567.92 L647.70,565.08 L648.20,562.27 L648.70,559.47 L649.20,556.68 L649.70,553.92 L650.20,551.18 L650.70,548.45 L651.20,545.75 L651.70,543.05 L652.20,540.38 L652.70,537.73 L653.20,535.09 L653.70,532.46 L654.20,529.86 L654.70,527.27 L655.20,524.69 L655.70,522.13 L656.20,519.59 L656.70,517.06 L657.20,514.55 L657.70,512.05 L658.20,509.57 L658.70,507.10 L659.20,504.64 L659.70,502.20 L660.20,499.77 L660.70,497.36 L661.20,494.96 L661.70,492.58 L662.20,490.20 L662.70,487.84 L663.20,485.50 L663.70,483.16 L664.20,480.84 L664.70,478.54 L665.20,476.24 L665.70,473.96 L666.20,471.69 L666.70,469.43 L667.20,467.18 L667.70,464.94 L668.20,462.72 L668.70,460.51 L669.20,458.31 L669.70,456.12 L670.20,453.94 L670.70,451.78 L671.20,449.62 L671.70,447.47 L672.20,445.34 L672.70,443.22 L673.20,441.11 L673.70,439.00 L674.20,436.91 L674.70,434.83 L675.20,432.76 L675.70,430.70 L676.20,428.65 L676.70,426.61 L677.20,424.58 L677.70,422.55 L678.20,420.54 L678.70,418.54 L679.20,416.55 L679.70,414.57 L680.20,412.59 L680.70,410.63 L681.20,408.67 L681.70,406.73 L682.20,404.79 L682.70,402.87 L683.20,400.95 L683.70,399.04 L684.20,397.14 L684.70,395.25 L685.20,393.36 L685.70,391.49 L686.20,389.62 L686.70,387.76 L687.20,385.92 L687.70,384.07 L688.20,382.24 L688.70,380.42 L689.20,378.60 L689.70,376.79 L690.20,374.99 L690.70,373.20 L691.20,371.42 L691.70,369.64 L692.20,367.88 L692.70,366.12 L693.20,364.36 L693.70,362.62 L694.20,360.88 L694.70,359.15 L695.20,357.43 L695.70,355.72 L696.20,354.01 L696.70,352.31 L697.20,350.62 L697.70,348.94 L698.20,347.26 L698.70,345.59 L699.20,343.93 L699.70,342.27 L700.20,340.62 L700.70,338.98 L701.20,337.35 L701.70,335.72 L702.20,334.10 L702.70,332.49 L703.20,330.88 L703.70,329.28 L704.20,327.69 L704.70,326.10 L705.20,324.52 L705.70,322.95 L706.20,321.38 L706.70,319.82 L707.20,318.27 L707.70,316.72 L708.20,315.18 L708.70,313.65 L709.20,312.12 L709.70,310.60 L710.20,309.09 L710.70,307.58 L711.20,306.08 L711.70,304.58 L712.20,303.09 L712.70,301.61 L713.20,300.14 L713.70,298.66 L714.20,297.20 L714.70,295.74 L715.20,294.29 L715.70,292.84 L716.20,291.40 L716.70,289.97 L717.20,288.54 L717.70,287.12 L718.20,285.70 L718.70,284.29 L719.20,282.89 L719.70,281.49 L720.20,280.09 L720.70,278.71 L721.20,277.32 L721.70,275.95 L722.20,274.58 L722.70,273.21 L723.20,271.85 L723.70,270.50 L724.20,269.15 L724.70,267.81 L725.20,266.47 L725.70,265.14 L726.20,263.82 L726.70,262.49 L727.20,261.18 L727.70,259.87 L728.20,258.57 L728.70,257.27 L729.20,255.97 L729.70,254.69 L730.20,253.40 L730.70,252.12 L731.20,250.85 L731.70,249.59 L732.20,248.32 L732.70,247.07 L733.20,245.82 L733.70,244.57 L734.20,243.33 L734.70,242.09 L735.20,240.86 L735.70,239.63 L736.20,238.41 L736.70,237.20 L737.20,235.99 L737.70,234.78 L738.20,233.58 L738.70,232.38 L739.20,231.19 L739.70,230.01 L740.20,228.83 L740.70,227.65 L741.20,226.48 L741.70,225.31 L742.20,224.15 L742.70,222.99 L743.20,221.84 L743.70,220.70 L744.20,219.55 L744.70,218.42 L745.20,217.28 L745.70,216.15 L746.20,215.03 L746.70,213.91 L747.20,212.80 L747.70,211.69 L748.20,210.58 L748.70,209.48 L749.20,208.39 L749.70,207.30 L750.20,206.21 L750.70,205.13 L751.20,204.05 L751.70,202.98 L752.20,201.91 L752.70,200.85 L753.20,199.79 L753.70,198.74 L754.20,197.69 L754.70,196.64 L755.20,195.60 L755.70,194.56 L756.20,193.53 L756.70,192.50 L757.20,191.48 L757.70,190.46 L758.20,189.45 L758.70,188.44 L759.20,187.43 L759.70,186.43 L760.20,185.43 L760.70,184.44 L761.20,183.45 L761.70,182.47 L762.20,181.49 L762.70,180.51 L763.20,179.54 L763.70,178.57 L764.20,177.61 L764.70,176.65 L765.20,175.69 L765.70,174.74 L766.20,173.80 L766.70,172.86 L767.20,171.92 L767.70,170.98 L768.20,170.06 L768.70,169.13 L769.20,168.21 L769.70,167.29 L770.20,166.38 L770.70,165.47 L771.20,164.56 L771.70,163.66 L772.20,162.77 L772.70,161.87 L773.20,160.98 L773.70,160.10 L774.20,159.22 L774.70,158.34 L775.20,157.47 L775.70,156.60 L776.20,155.74 L776.70,154.88 L777.20,154.02 L777.70,153.17 L778.20,152.32 L778.70,151.47 L779.20,150.63 L779.70,149.80 L780.20,148.96 L780.70,148.13 L781.20,147.31 L781.70,146.49 L782.20,145.67 L782.70,144.85 L783.20,144.04 L783.70,143.24 L784.20,142.44 L784.70,141.64 L785.20,140.84 L785.70,140.05 L786.20,139.27 L786.70,138.48 L787.20,137.70 L787.70,136.93 L788.20,136.16 L788.70,135.39 L789.20,134.62 L789.70,133.86 L790.20,133.11 L790.70,132.35 L791.20,131.60 L791.70,130.86 L792.20,130.12 L792.70,129.38 L793.20,128.65 L793.70,127.91 L794.20,127.19 L794.70,126.46 L795.20,125.74 L795.70,125.03 L796.20,124.32 L796.70,123.61 L797.20,122.90 L797.70,122.20 L798.20,121.50 L798.70,120.81 L799.20,120.12 L799.70,119.43 L800.20,118.75 L800.70,118.07 L801.20,117.39 L801.70,116.72 L802.20,116.05 L802.70,115.39 L803.20,114.72 L803.70,114.07 L804.20,113.41 L804.70,112.76 L805.20,112.11 L805.70,111.47 L806.20,110.83 L806.70,110.19 L807.20,109.56 L807.70,108.93 L808.20,108.30 L808.70,107.68 L809.20,107.06 L809.70,106.44 L810.20,105.83 L810.70,105.22 L811.20,104.62 L811.70,104.02 L812.20,103.42 L812.70,102.82 L813.20,102.23 L813.70,101.64 L814.20,101.06 L814.70,100.48 L815.20,99.90 L815.70,99.32 L816.20,98.75 L816.70,98.19 L817.20,97.62 L817.70,97.06 L818.20,96.50 L818.70,95.95 L819.20,95.40 L819.70,94.85 L820.20,94.31 L820.70,93.77 L821.20,93.23 L821.70,92.70 L822.20,92.17 L822.70,91.64 L823.20,91.12 L823.70,90.60 L824.20,90.08 L824.70,89.57 L825.20,89.06 L825.70,88.55 L826.20,88.05 L826.70,87.55 L827.20,87.05 L827.70,86.56 L828.20,86.07 L828.70,85.58 L829.20,85.10 L829.70,84.62 L830.20,84.14 L830.70,83.67 L831.20,83.20 L831.70,82.73 L832.20,82.27 L832.70,81.81 L833.20,81.35 L833.70,80.89 L834.20,80.44 L834.70,80.00 L835.20,79.55 L835.70,79.11 L836.20,78.67 L836.70,78.24 L837.20,77.81 L837.70,77.38 L838.20,76.96 L838.70,76.54 L839.20,76.12 L839.70,75.70 L840.20,75.29 L840.70,74.88 L841.20,74.48 L841.70,74.08 L842.20,73.68 L842.70,73.28 L843.20,72.89 L843.70,72.50 L844.20,72.12 L844.70,71.73 L845.20,71.35 L845.70,70.98 L846.20,70.60 L846.70,70.23 L847.20,69.87 L847.70,69.50 L848.20,69.14 L848.70,68.79 L849.20,68.43 L849.70,68.08 L850.20,67.73 L850.70,67.39 L851.20,67.05 L851.70,66.71 L852.20,66.38 L852.70,66.04 L853.20,65.72 L853.70,65.39 L854.20,65.07 L854.70,64.75 L855.20,64.43 L855.70,64.12 L856.20,63.81 L856.70,63.50 L857.20,63.20 L857.70,62.90 L858.20,62.60 L858.70,62.31 L859.20,62.02 L859.70,61.73 L860.20,61.44 L860.70,61.16 L861.20,60.88 L861.70,60.61 L862.20,60.34 L862.70,60.07 L863.20,59.80 L863.70,59.54 L864.20,59.28 L864.70,59.02 L865.20,58.77 L865.70,58.52 L866.20,58.27 L866.70,58.03 L867.20,57.79 L867.70,57.55 L868.20,57.31 L868.70,57.08 L869.20,56.85 L869.70,56.63 L870.20,56.40 L870.70,56.18 L871.20,55.97 L871.70,55.75 L872.20,55.54 L872.70,55.34 L873.20,55.13 L873.70,54.93 L874.20,54.73 L874.70,54.54 L875.20,54.35 L875.70,54.16 L876.20,53.97 L876.70,53.79 L877.20,53.61 L877.70,53.43 L878.20,53.26 L878.70,53.09 L879.20,52.92 L879.70,52.76 L880.20,52.60 L880.70,52.44 L881.20,52.28 L881.70,52.13 L882.20,51.98 L882.70,51.84 L883.20,51.69 L883.70,51.55 L884.20,51.42 L884.70,51.28 L885.20,51.15 L885.70,51.02 L886.20,50.90 L886.70,50.78 L887.20,50.66 L887.70,50.54 L888.20,50.43 L888.70,50.32 L889.20,50.22 L889.70,50.11 L890.20,50.01 L890.70,49.91 L891.20,49.82 L891.70,49.73 L892.20,49.64 L892.70,49.56 L893.20,49.47 L893.70,49.39 L894.20,49.32 L894.70,49.25 L895.20,49.18 L895.70,49.11 L896.20,49.04 L896.70,48.98 L897.20,48.93 L897.70,48.87 L898.20,48.82 L898.70,48.77 L899.20,48.72 L899.70,48.68 L900.20,48.64 L900.70,48.60 L901.20,48.57 L901.70,48.54 L902.20,48.51 L902.70,48.49 L903.20,48.47 L903.70,48.45 L904.20,48.43 L904.70,48.42 L905.20,48.41 L905.70,48.40 L906.20,48.40 L906.70,48.40 L907.20,48.40 L907.70,48.41 L908.20,48.42 L908.70,48.43 L909.20,48.44 L909.70,48.46 L910.20,48.48 L910.70,48.51 L911.20,48.53 L911.70,48.56 L912.20,48.60 L912.70,48.63 L913.20,48.67 L913.70,48.71 L914.20,48.76 L914.70,48.81 L915.20,48.86 L915.70,48.91 L916.20,48.97 L916.70,49.03 L917.20,49.09 L917.70,49.16 L918.20,49.23 L918.70,49.30 L919.20,49.37 L919.70,49.45 L920.20,49.53 L920.70,49.62 L921.20,49.70 L921.70,49.80 L922.20,49.89 L922.70,49.99 L923.20,50.08 L923.70,50.19 L924.20,50.29 L924.70,50.40 L925.20,50.51 L925.70,50.63 L926.20,50.75 L926.70,50.87 L927.20,50.99 L927.70,51.12 L928.20,51.25 L928.70,51.38 L929.20,51.52 L929.70,51.66 L930.20,51.80 L930.70,51.94 L931.20,52.09 L931.70,52.24 L932.20,52.40 L932.70,52.55 L933.20,52.71 L933.70,52.88 L934.20,53.04 L934.70,53.21 L935.20,53.39 L935.70,53.56 L936.20,53.74 L936.70,53.92 L937.20,54.11 L937.70,54.30 L938.20,54.49 L938.70,54.68 L939.20,54.88 L939.70,55.08 L940.20,55.28 L940.70,55.49 L941.20,55.70 L941.70,55.91 L942.20,56.13 L942.70,56.34 L943.20,56.57 L943.70,56.79 L944.20,57.02 L944.70,57.25 L945.20,57.48 L945.70,57.72 L946.20,57.96 L946.70,58.21 L947.20,58.45 L947.70,58.70 L948.20,58.95 L948.70,59.21 L949.20,59.47 L949.70,59.73 L950.20,60.00 L950.70,60.26 L951.20,60.54 L951.70,60.81 L952.20,61.09 L952.70,61.37 L953.20,61.65 L953.70,61.94 L954.20,62.23 L954.70,62.52 L955.20,62.82 L955.70,63.12 L956.20,63.42 L956.70,63.73 L957.20,64.04 L957.70,64.35 L958.20,64.66 L958.70,64.98 L959.20,65.30 L959.70,65.63 L960.20,65.95 L960.70,66.29 L961.20,66.62 L961.70,66.96 L962.20,67.30 L962.70,67.64 L963.20,67.99 L963.70,68.34 L964.20,68.69 L964.70,69.05 L965.20,69.41 L965.70,69.77 L966.20,70.13 L966.70,70.50 L967.20,70.88 L967.70,71.25 L968.20,71.63 L968.70,72.01 L969.20,72.40 L969.70,72.78 L970.20,73.18 L970.70,73.57 L971.20,73.97 L971.70,74.37 L972.20,74.77 L972.70,75.18 L973.20,75.59 L973.70,76.01 L974.20,76.42 L974.70,76.84 L975.20,77.27 L975.70,77.69 L976.20,78.12 L976.70,78.56 L977.20,78.99 L977.70,79.43 L978.20,79.88 L978.70,80.32 L979.20,80.77 L979.70,81.23 L980.20,81.68 L980.70,82.14 L981.20,82.60 L981.70,83.07 L982.20,83.54 L982.70,84.01 L983.20,84.49 L983.70,84.97 L984.20,85.45 L984.70,85.94 L985.20,86.42 L985.70,86.92 L986.20,87.41 L986.70,87.91 L987.20,88.41 L987.70,88.92 L988.20,89.43 L988.70,89.94 L989.20,90.46 L989.70,90.98 L990.20,91.50 L990.70,92.03 L991.20,92.55 L991.70,93.09 L992.20,93.62 L992.70,94.16 L993.20,94.71 L993.70,95.25 L994.20,95.80 L994.70,96.35 L995.20,96.91 L995.70,97.47 L996.20,98.03 L996.70,98.60 L997.20,99.17 L997.70,99.74 L998.20,100.32 L998.70,100.90 L999.20,101.48 L999.70,102.07 L1000.20,102.66 L1000.70,103.26 L1001.20,103.85 L1001.70,104.45 L1002.20,105.06 L1002.70,105.67 L1003.20,106.28 L1003.70,106.89 L1004.20,107.51 L1004.70,108.13 L1005.20,108.76 L1005.70,109.39 L1006.20,110.02 L1006.70,110.66 L1007.20,111.30 L1007.70,111.94 L1008.20,112.59 L1008.70,113.24 L1009.20,113.89 L1009.70,114.55 L1010.20,115.21 L1010.70,115.87 L1011.20,116.54 L1011.70,117.21 L1012.20,117.89 L1012.70,118.56 L1013.20,119.25 L1013.70,119.93 L1014.20,120.62 L1014.70,121.32 L1015.20,122.01 L1015.70,122.71 L1016.20,123.42 L1016.70,124.12 L1017.20,124.84 L1017.70,125.55 L1018.20,126.27 L1018.70,126.99 L1019.20,127.72 L1019.70,128.45 L1020.20,129.18 L1020.70,129.92 L1021.20,130.66 L1021.70,131.40 L1022.20,132.15 L1022.70,132.90 L1023.20,133.66 L1023.70,134.42 L1024.20,135.18 L1024.70,135.95 L1025.20,136.72 L1025.70,137.49 L1026.20,138.27 L1026.70,139.05 L1027.20,139.84 L1027.70,140.63 L1028.20,141.42 L1028.70,142.22 L1029.20,143.02 L1029.70,143.83 L1030.20,144.64 L1030.70,145.45 L1031.20,146.26 L1031.70,147.09 L1032.20,147.91 L1032.70,148.74 L1033.20,149.57 L1033.70,150.41 L1034.20,151.25 L1034.70,152.09 L1035.20,152.94 L1035.70,153.79 L1036.20,154.64 L1036.70,155.50 L1037.20,156.37 L1037.70,157.24 L1038.20,158.11 L1038.70,158.98 L1039.20,159.86 L1039.70,160.75 L1040.20,161.63 L1040.70,162.52 L1041.20,163.42 L1041.70,164.32 L1042.20,165.22 L1042.70,166.13 L1043.20,167.04 L1043.70,167.96 L1044.20,168.88 L1044.70,169.80 L1045.20,170.73 L1045.70,171.67 L1046.20,172.60 L1046.70,173.54 L1047.20,174.49 L1047.70,175.44 L1048.20,176.39 L1048.70,177.35 L1049.20,178.31 L1049.70,179.28 L1050.20,180.25 L1050.70,181.22 L1051.20,182.20 L1051.70,183.18 L1052.20,184.17 L1052.70,185.16 L1053.20,186.16 L1053.70,187.16 L1054.20,188.16 L1054.70,189.17 L1055.20,190.19 L1055.70,191.20 L1056.20,192.23 L1056.70,193.25 L1057.20,194.28 L1057.70,195.32 L1058.20,196.36 L1058.70,197.40 L1059.20,198.45 L1059.70,199.51 L1060.20,200.56 L1060.70,201.63 L1061.20,202.69 L1061.70,203.76 L1062.20,204.84 L1062.70,205.92 L1063.20,207.00 L1063.70,208.09 L1064.20,209.19 L1064.70,210.29 L1065.20,211.39 L1065.70,212.50 L1066.20,213.61 L1066.70,214.73 L1067.20,215.85 L1067.70,216.98 L1068.20,218.11 L1068.70,219.25 L1069.20,220.39 L1069.70,221.53 L1070.20,222.68 L1070.70,223.84 L1071.20,225.00 L1071.70,226.16 L1072.20,227.33 L1072.70,228.51 L1073.20,229.69 L1073.70,230.87 L1074.20,232.06 L1074.70,233.26 L1075.20,234.46 L1075.70,235.66 L1076.20,236.87 L1076.70,238.08 L1077.20,239.30 L1077.70,240.53 L1078.20,241.76 L1078.70,242.99 L1079.20,244.23 L1079.70,245.48 L1080.20,246.73 L1080.70,247.98 L1081.20,249.24 L1081.70,250.51 L1082.20,251.78 L1082.70,253.06 L1083.20,254.34 L1083.70,255.63 L1084.20,256.92 L1084.70,258.21 L1085.20,259.52 L1085.70,260.83 L1086.20,262.14 L1086.70,263.46 L1087.20,264.78 L1087.70,266.11 L1088.20,267.45 L1088.70,268.79 L1089.20,270.14 L1089.70,271.49 L1090.20,272.85 L1090.70,274.21 L1091.20,275.58 L1091.70,276.95 L1092.20,278.33 L1092.70,279.72 L1093.20,281.11 L1093.70,282.51 L1094.20,283.91 L1094.70,285.32 L1095.20,286.73 L1095.70,288.16 L1096.20,289.58 L1096.70,291.02 L1097.20,292.45 L1097.70,293.90 L1098.20,295.35 L1098.70,296.81 L1099.20,298.27 L1099.70,299.74 L1100.20,301.21 L1100.70,302.69 L1101.20,304.18 L1101.70,305.67 L1102.20,307.17 L1102.70,308.68 L1103.20,310.19 L1103.70,311.71 L1104.20,313.24 L1104.70,314.77 L1105.20,316.31 L1105.70,317.85 L1106.20,319.40 L1106.70,320.96 L1107.20,322.53 L1107.70,324.10 L1108.20,325.67 L1108.70,327.26 L1109.20,328.85 L1109.70,330.45 L1110.20,332.05 L1110.70,333.66 L1111.20,335.28 L1111.70,336.91 L1112.20,338.54 L1112.70,340.18 L1113.20,341.83 L1113.70,343.48 L1114.20,345.14 L1114.70,346.81 L1115.20,348.48 L1115.70,350.17 L1116.20,351.86 L1116.70,353.55 L1117.20,355.26 L1117.70,356.97 L1118.20,358.69 L1118.70,360.42 L1119.20,362.15 L1119.70,363.89 L1120.20,365.64 L1120.70,367.40 L1121.20,369.17 L1121.70,370.94 L1122.20,372.72 L1122.70,374.51 L1123.20,376.31 L1123.70,378.11 L1124.20,379.93 L1124.70,381.75 L1125.20,383.58 L1125.70,385.42 L1126.20,387.26 L1126.70,389.12 L1127.20,390.98 L1127.70,392.86 L1128.20,394.74 L1128.70,396.63 L1129.20,398.52 L1129.70,400.43 L1130.20,402.35 L1130.70,404.27 L1131.20,406.21 L1131.70,408.15 L1132.20,410.10 L1132.70,412.06 L1133.20,414.03 L1133.70,416.01 L1134.20,418.00 L1134.70,420.00 L1135.20,422.01 L1135.70,424.03 L1136.20,426.06 L1136.70,428.10 L1137.20,430.14 L1137.70,432.20 L1138.20,434.27 L1138.70,436.35 L1139.20,438.44 L1139.70,440.54 L1140.20,442.65 L1140.70,444.77 L1141.20,446.90 L1141.70,449.04 L1142.20,451.19 L1142.70,453.36 L1143.20,455.53 L1143.70,457.72 L1144.20,459.91 L1144.70,462.12 L1145.20,464.34 L1145.70,466.58 L1146.20,468.82 L1146.70,471.07 L1147.20,473.34 L1147.70,475.62 L1148.20,477.91 L1148.70,480.22 L1149.20,482.54 L1149.70,484.87 L1150.20,487.21 L1150.70,489.56 L1151.20,491.93 L1151.70,494.32 L1152.20,496.71 L1152.70,499.12 L1153.20,501.54 L1153.70,503.98 L1154.20,506.43 L1154.70,508.90 L1155.20,511.38 L1155.70,513.87 L1156.20,516.38 L1156.70,518.90 L1157.20,521.44 L1157.70,524.00 L1158.20,526.57 L1158.70,529.16 L1159.20,531.76 L1159.70,534.38 L1160.20,537.01 L1160.70,539.66 L1161.20,542.33 L1161.70,545.02 L1162.20,547.72 L1162.70,550.44 L1163.20,553.18 L1163.70,555.94 L1164.20,558.71 L1164.70,561.51 L1165.20,564.32 L1165.70,567.15 L1166.20,570.01 L1166.70,572.88 L1167.20,575.77 L1167.70,578.69 L1168.20,581.62 L1168.70,584.58 L1169.20,587.56 L1169.70,590.56 L1170.20,593.58 L1170.70,596.63 L1171.20,599.70 L1171.70,602.79 L1172.20,605.91 L1172.70,609.05 L1173.20,612.22 L1173.70,615.41 L1174.20,618.63 L1174.70,621.88 L1175.20,625.15 L1175.70,628.45 L1176.20,631.78 L1176.70,635.14 L1177.20,638.53 L1177.70,641.95 L1178.20,645.41 L1178.70,648.89 L1179.20,652.40 L1179.70,655.95 L1180.20,659.54 L1180.70,663.15 L1181.20,666.81 L1181.70,670.50 L1182.20,674.22 L1182.70,677.99 L1183.20,681.79 L1183.70,685.63 L1184.20,689.52 L1184.70,693.44 L1185.20,697.41 L1185.70,701.41 L1186.20,705.47 L1186.70,709.56 L1187.20,713.70 L1187.70,717.88 L1188.20,722.11 L1188.70,726.38 L1189.20,730.69 L1189.70,735.04 L1190.20,739.42 L1190.70,743.84 L1191.20,748.29 L1191.70,752.75 L1192.20,757.21 L1192.70,761.67 L1193.20,766.09 L1193.70,770.45 L1194.20,774.70 L1194.70,778.79 L1195.20,782.65 L1195.70,786.17 L1196.20,789.23 L1196.70,791.71 L1197.20,793.44 L1197.70,794.31 L1197.92,794.40 L1198.20,794.25 L1198.70,793.26 L1199.20,791.42 L1199.70,788.87 L1200.20,785.73 L1200.70,782.16 L1201.20,778.27 L1201.70,774.16 L1202.20,769.89 L1202.70,765.52 L1203.20,761.09 L1203.70,756.63 L1204.20,752.16 L1204.70,747.70 L1205.20,743.26 L1205.70,738.85 L1206.20,734.47 L1206.70,730.12 L1207.20,725.82 L1207.70,721.55 L1208.20,717.33 L1208.70,713.16 L1209.20,709.02 L1209.70,704.93 L1210.20,700.89 L1210.70,696.89 L1211.20,692.93 L1211.70,689.01 L1212.20,685.13 L1212.70,681.29 L1213.20,677.49 L1213.70,673.73 L1214.20,670.01 L1214.70,666.33 L1215.20,662.68 L1215.70,659.07 L1216.20,655.49 L1216.70,651.94 L1217.20,648.43 L1217.70,644.95 L1218.20,641.51 L1218.70,638.09 L1219.20,634.70 L1219.70,631.35 L1220.20,628.02 L1220.70,624.72 L1221.20,621.45 L1221.70,618.21 L1222.20,614.99 L1222.70,611.80 L1223.20,608.64 L1223.70,605.50 L1224.20,602.38 L1224.70,599.29 L1225.20,596.23 L1225.70,593.18 L1226.20,590.16 L1226.70,587.17 L1227.20,584.19 L1227.70,581.24 L1228.20,578.31 L1228.70,575.39 L1229.20,572.50 L1229.70,569.63 L1230.20,566.78 L1230.70,563.95 L1231.20,561.14 L1231.70,558.35 L1232.20,555.58 L1232.70,552.82 L1233.20,550.09 L1233.70,547.37 L1234.20,544.67 L1234.70,541.98 L1235.20,539.32 L1235.70,536.67 L1236.20,534.03 L1236.70,531.42 L1237.20,528.82 L1237.70,526.23 L1238.20,523.66 L1238.70,521.11 L1239.20,518.57 L1239.70,516.05 L1240.20,513.55 L1240.70,511.05 L1241.20,508.57 L1241.70,506.11 L1242.20,503.66 L1242.70,501.23 L1243.20,498.81 L1243.70,496.40 L1244.20,494.00 L1244.70,491.62 L1245.20,489.26 L1245.70,486.90 L1246.20,484.56 L1246.70,482.23 L1247.20,479.92 L1247.70,477.61 L1248.20,475.32 L1248.70,473.05 L1249.20,470.78 L1249.70,468.53 L1250.20,466.28 L1250.70,464.05 L1251.20,461.83 L1251.70,459.63 L1252.20,457.43 L1252.70,455.25 L1253.20,453.07 L1253.70,450.91 L1254.20,448.76 L1254.70,446.62 L1255.20,444.49 L1255.70,442.37 L1256.20,440.26 L1256.70,438.16 L1257.20,436.08 L1257.70,434.00 L1258.20,431.93 L1258.70,429.88 L1259.20,427.83 L1259.70,425.79 L1260.20,423.77 L1260.70,421.75 L1261.20,419.74 L1261.70,417.74 L1262.20,415.75 L1262.70,413.78 L1263.20,411.81 L1263.70,409.85 L1264.20,407.89 L1264.70,405.95 L1265.20,404.02 L1265.70,402.10 L1266.20,400.18 L1266.70,398.28 L1267.20,396.38 L1267.70,394.49 L1268.20,392.61 L1268.70,390.74 L1269.20,388.88 L1269.70,387.02 L1270.20,385.18 L1270.70,383.34 L1271.20,381.51 L1271.70,379.69 L1272.20,377.88 L1272.70,376.07 L1273.20,374.28 L1273.70,372.49 L1274.20,370.71 L1274.70,368.94 L1275.20,367.17 L1275.70,365.41 L1276.20,363.66 L1276.70,361.92 L1277.20,360.19 L1277.70,358.46 L1278.20,356.75 L1278.70,355.03 L1279.20,353.33 L1279.70,351.63 L1280.20,349.95 L1280.70,348.26 L1281.20,346.59 L1281.70,344.92 L1282.20,343.26 L1282.70,341.61 L1283.20,339.96 L1283.70,338.33 L1284.20,336.69 L1284.70,335.07 L1285.20,333.45 L1285.70,331.84 L1286.20,330.24 L1286.70,328.64 L1287.20,327.05 L1287.70,325.47 L1288.20,323.89 L1288.70,322.32 L1289.20,320.76 L1289.70,319.20 L1290.20,317.65 L1290.70,316.11 L1291.20,314.57 L1291.70,313.04 L1292.20,311.51 L1292.70,310.00 L1293.20,308.48 L1293.70,306.98 L1294.20,305.48 L1294.70,303.99 L1295.20,302.50 L1295.70,301.02 L1296.20,299.55 L1296.70,298.08 L1297.20,296.62 L1297.70,295.16 L1298.20,293.71 L1298.70,292.27 L1299.20,290.83 L1299.70,289.40 L1300.20,287.97 L1300.70,286.55 L1301.20,285.14 L1301.70,283.73 L1302.20,282.32 L1302.70,280.93 L1303.20,279.54 L1303.70,278.15 L1304.20,276.77 L1304.70,275.40 L1305.20,274.03 L1305.70,272.67 L1306.20,271.31 L1306.70,269.96 L1307.20,268.61 L1307.70,267.27 L1308.20,265.94 L1308.70,264.61 L1309.20,263.29 L1309.70,261.97 L1310.20,260.65 L1310.70,259.35 L1311.20,258.05 L1311.70,256.75 L1312.20,255.46 L1312.70,254.17 L1313.20,252.89 L1313.70,251.61 L1314.20,250.34 L1314.70,249.08 L1315.20,247.82 L1315.70,246.56 L1316.20,245.32 L1316.70,244.07 L1317.20,242.83 L1317.70,241.60 L1318.20,240.37 L1318.70,239.15 L1319.20,237.93 L1319.70,236.71 L1320.20,235.50 L1320.70,234.30 L1321.20,233.10 L1321.70,231.91 L1322.20,230.72 L1322.70,229.53 L1323.20,228.36 L1323.70,227.18 L1324.20,226.01 L1324.70,224.85 L1325.20,223.69 L1325.70,222.53 L1326.20,221.38 L1326.70,220.24 L1327.20,219.10 L1327.70,217.96 L1328.20,216.83 L1328.70,215.70 L1329.20,214.58 L1329.70,213.47 L1330.20,212.35 L1330.70,211.25 L1331.20,210.14 L1331.70,209.05 L1332.20,207.95 L1332.70,206.86 L1333.20,205.78 L1333.70,204.70 L1334.20,203.62 L1334.70,202.55 L1335.20,201.49 L1335.70,200.43 L1336.20,199.37 L1336.70,198.32 L1337.20,197.27 L1337.70,196.22 L1338.20,195.18 L1338.70,194.15 L1339.20,193.12 L1339.70,192.09 L1340.20,191.07 L1340.70,190.05 L1341.20,189.04 L1341.70,188.03 L1342.20,187.03 L1342.70,186.03 L1343.20,185.03 L1343.70,184.04 L1344.20,183.06 L1344.70,182.07 L1345.20,181.09 L1345.70,180.12 L1346.20,179.15 L1346.70,178.19 L1347.20,177.22 L1347.70,176.27 L1348.20,175.31 L1348.70,174.37 L1349.20,173.42 L1349.70,172.48 L1350.20,171.54 L1350.70,170.61 L1351.20,169.68 L1351.70,168.76 L1352.20,167.84 L1352.70,166.92 L1353.20,166.01 L1353.70,165.11 L1354.20,164.20 L1354.70,163.30 L1355.20,162.41 L1355.70,161.52 L1356.20,160.63 L1356.70,159.75 L1357.20,158.87 L1357.70,157.99 L1358.20,157.12 L1358.70,156.25 L1359.20,155.39 L1359.70,154.53 L1360.20,153.68 L1360.70,152.83 L1361.20,151.98 L1361.70,151.14 L1362.20,150.30 L1362.70,149.46 L1363.20,148.63 L1363.70,147.80 L1364.20,146.98 L1364.70,146.16 L1365.20,145.34 L1365.70,144.53 L1366.20,143.72 L1366.70,142.92 L1367.20,142.12 L1367.70,141.32 L1368.20,140.53 L1368.70,139.74 L1369.20,138.95 L1369.70,138.17 L1370.20,137.39 L1370.70,136.62 L1371.20,135.85 L1371.70,135.08 L1372.20,134.32 L1372.70,133.56 L1373.20,132.81 L1373.70,132.05 L1374.20,131.31 L1374.70,130.56 L1375.20,129.82 L1375.70,129.09 L1376.20,128.35 L1376.70,127.62 L1377.20,126.90 L1377.70,126.18 L1378.20,125.46 L1378.70,124.74 L1379.20,124.03 L1379.70,123.32 L1380.20,122.62 L1380.70,121.92 L1381.20,121.23 L1381.70,120.53 L1382.20,119.84 L1382.70,119.16 L1383.20,118.48 L1383.70,117.80 L1384.20,117.12 L1384.70,116.45 L1385.20,115.78 L1385.70,115.12 L1386.20,114.46 L1386.70,113.80 L1387.20,113.15 L1387.70,112.50 L1388.20,111.86 L1388.70,111.21 L1389.20,110.57 L1389.70,109.94 L1390.20,109.31 L1390.70,108.68 L1391.20,108.05 L1391.70,107.43 L1392.20,106.81 L1392.70,106.20 L1393.20,105.59 L1393.70,104.98 L1394.20,104.38 L1394.70,103.78 L1395.20,103.18 L1395.70,102.58 L1396.20,101.99 L1396.70,101.41 L1397.20,100.82 L1397.70,100.24 L1398.20,99.67 L1398.70,99.10 L1399.20,98.53 L1399.70,97.96 L1400.20,97.40 L1400.70,96.84 L1401.20,96.28 L1401.70,95.73 L1402.20,95.18 L1402.70,94.63 L1403.20,94.09 L1403.70,93.55 L1404.20,93.02 L1404.70,92.49 L1405.20,91.96 L1405.70,91.43 L1406.20,90.91 L1406.70,90.39 L1407.20,89.88 L1407.70,89.36 L1408.20,88.85 L1408.70,88.35 L1409.20,87.85 L1409.70,87.35 L1410.20,86.85 L1410.70,86.36 L1411.20,85.87 L1411.70,85.39 L1412.20,84.90 L1412.70,84.43 L1413.20,83.95 L1413.70,83.48 L1414.20,83.01 L1414.70,82.54 L1415.20,82.08 L1415.70,81.62 L1416.20,81.17 L1416.70,80.71 L1417.20,80.26 L1417.70,79.82 L1418.20,79.38 L1418.70,78.94 L1419.20,78.50 L1419.70,78.07 L1420.20,77.64 L1420.70,77.21 L1421.20,76.79 L1421.70,76.37 L1422.20,75.95 L1422.70,75.54 L1423.20,75.13 L1423.70,74.72 L1424.20,74.32 L1424.70,73.92 L1425.20,73.52 L1425.70,73.12 L1426.20,72.73 L1426.70,72.35 L1427.20,71.96 L1427.70,71.58 L1428.20,71.20 L1428.70,70.83 L1429.20,70.46 L1429.70,70.09 L1430.20,69.72 L1430.70,69.36 L1431.20,69.00 L1431.70,68.64 L1432.20,68.29 L1432.70,67.94 L1433.20,67.60 L1433.70,67.25 L1434.20,66.91 L1434.70,66.58 L1435.20,66.24 L1435.70,65.91 L1436.20,65.58 L1436.70,65.26 L1437.20,64.94 L1437.70,64.62 L1438.20,64.31 L1438.70,64.00 L1439.20,63.69 L1439.70,63.38 L1440.20,63.08 L1440.70,62.78 L1441.20,62.48 L1441.70,62.19 L1442.20,61.90 L1442.70,61.62 L1443.20,61.33 L1443.70,61.05 L1444.20,60.77 L1444.70,60.50 L1445.20,60.23 L1445.70,59.96 L1446.20,59.70 L1446.70,59.44 L1447.20,59.18 L1447.70,58.92 L1448.20,58.67 L1448.70,58.42 L1449.20,58.17 L1449.70,57.93 L1450.20,57.69 L1450.70,57.45 L1451.20,57.22 L1451.70,56.99 L1452.20,56.76 L1452.70,56.54 L1453.20,56.32 L1453.70,56.10 L1454.20,55.88 L1454.70,55.67 L1455.20,55.46 L1455.70,55.25 L1456.20,55.05 L1456.70,54.85 L1457.20,54.66 L1457.70,54.46 L1458.20,54.27 L1458.70,54.08 L1459.20,53.90 L1459.70,53.72 L1460.20,53.54 L1460.70,53.36 L1461.20,53.19 L1461.70,53.02 L1462.20,52.86 L1462.70,52.69 L1463.20,52.53 L1463.70,52.38 L1464.20,52.22 L1464.70,52.07 L1465.20,51.92 L1465.70,51.78 L1466.20,51.64 L1466.70,51.50 L1467.20,51.36 L1467.70,51.23 L1468.20,51.10 L1468.70,50.97 L1469.20,50.85 L1469.70,50.73 L1470.20,50.61 L1470.70,50.50 L1471.20,50.39 L1471.70,50.28 L1472.20,50.17 L1472.70,50.07 L1473.20,49.97 L1473.70,49.88 L1474.20,49.78 L1474.70,49.69 L1475.20,49.61 L1475.70,49.52 L1476.20,49.44 L1476.70,49.36 L1477.20,49.29 L1477.70,49.22 L1478.20,49.15 L1478.70,49.08 L1479.20,49.02 L1479.70,48.96 L1480.20,48.90 L1480.70,48.85 L1481.20,48.80 L1481.70,48.75 L1482.20,48.71 L1482.70,48.66 L1483.20,48.63 L1483.70,48.59 L1484.20,48.56 L1484.70,48.53 L1485.20,48.50 L1485.70,48.48 L1486.20,48.46 L1486.70,48.44 L1487.20,48.43 L1487.70,48.42 L1488.20,48.41 L1488.70,48.40 L1489.20,48.40 L1489.70,48.40 L1490.20,48.40 L1490.70,48.41 L1491.20,48.42 L1491.70,48.43 L1492.20,48.45 L1492.70,48.47 L1493.20,48.49 L1493.70,48.52 L1494.20,48.54 L1494.70,48.58 L1495.20,48.61 L1495.70,48.65 L1496.20,48.69 L1496.70,48.73 L1497.20,48.78 L1497.70,48.83 L1498.20,48.88 L1498.70,48.93 L1499.20,48.99 L1499.70,49.05 L1500.20,49.12 L1500.70,49.18 L1501.20,49.25 L1501.70,49.33 L1502.20,49.40 L1502.70,49.48 L1503.20,49.57 L1503.70,49.65 L1504.20,49.74 L1504.70,49.83 L1505.20,49.93 L1505.70,50.02 L1506.20,50.13 L1506.70,50.23 L1507.20,50.34 L1507.70,50.45 L1508.20,50.56 L1508.70,50.67 L1509.20,50.79 L1509.70,50.92 L1510.20,51.04 L1510.70,51.17 L1511.20,51.30 L1511.70,51.43 L1512.20,51.57 L1512.70,51.71 L1513.20,51.86 L1513.70,52.00 L1514.20,52.15 L1514.70,52.30 L1515.20,52.46 L1515.70,52.62 L1516.20,52.78 L1516.70,52.94 L1517.20,53.11 L1517.70,53.28 L1518.20,53.46 L1518.70,53.63 L1519.20,53.81 L1519.70,54.00 L1520.20,54.18 L1520.70,54.37 L1521.20,54.56 L1521.70,54.76 L1522.20,54.96 L1522.70,55.16 L1523.20,55.36 L1523.70,55.57 L1524.20,55.78 L1524.70,56.00 L1525.20,56.21 L1525.70,56.43 L1526.20,56.66 L1526.70,56.88 L1527.20,57.11 L1527.70,57.34 L1528.20,57.58 L1528.70,57.82 L1529.20,58.06 L1529.70,58.30 L1530.20,58.55 L1530.70,58.80 L1531.20,59.06 L1531.70,59.31 L1532.20,59.57 L1532.70,59.84 L1533.20,60.10 L1533.70,60.37 L1534.20,60.65 L1534.70,60.92 L1535.20,61.20 L1535.70,61.48 L1536.20,61.77 L1536.70,62.06 L1537.20,62.35 L1537.70,62.64 L1538.20,62.94 L1538.70,63.24 L1539.20,63.54 L1539.70,63.85 L1540.20,64.16 L1540.70,64.47 L1541.20,64.79 L1541.70,65.11 L1542.20,65.43 L1542.70,65.76 L1543.20,66.09 L1543.70,66.42 L1544.20,66.75 L1544.70,67.09 L1545.20,67.43 L1545.70,67.78 L1546.20,68.13 L1546.70,68.48 L1547.20,68.83 L1547.70,69.19 L1548.20,69.55 L1548.70,69.92 L1549.20,70.28 L1549.70,70.65 L1550.20,71.03 L1550.70,71.40 L1551.20,71.78 L1551.70,72.17 L1552.20,72.55 L1552.70,72.94 L1553.20,73.33 L1553.70,73.73 L1554.20,74.13 L1554.70,74.53 L1555.20,74.94 L1555.70,75.35 L1556.20,75.76 L1556.70,76.17 L1557.20,76.59 L1557.70,77.01 L1558.20,77.44 L1558.70,77.87 L1559.20,78.30 L1559.70,78.73 L1560.20,79.17 L1560.70,79.61 L1561.20,80.06 L1561.70,80.50 L1562.20,80.95 L1562.70,81.41 L1563.20,81.87 L1563.70,82.33 L1564.20,82.79 L1564.70,83.26 L1565.20,83.73 L1565.70,84.20 L1566.20,84.68 L1566.70,85.16 L1567.20,85.64 L1567.70,86.13 L1568.20,86.62 L1568.70,87.12 L1569.20,87.61 L1569.70,88.11 L1570.20,88.62 L1570.70,89.12 L1571.20,89.63 L1571.70,90.15 L1572.20,90.67 L1572.70,91.19 L1573.20,91.71 L1573.70,92.24 L1574.20,92.77 L1574.70,93.30 L1575.20,93.84 L1575.70,94.38 L1576.20,94.92 L1576.70,95.47 L1577.20,96.02 L1577.70,96.58 L1578.20,97.13 L1578.70,97.70 L1579.20,98.26 L1579.70,98.83 L1580.20,99.40 L1580.70,99.97 L1581.20,100.55 L1581.70,101.13 L1582.20,101.72 L1582.70,102.31 L1583.20,102.90 L1583.70,103.50 L1584.20,104.09 L1584.70,104.70 L1585.20,105.30 L1585.70,105.91 L1586.20,106.52 L1586.70,107.14 L1587.20,107.76 L1587.70,108.38 L1588.20,109.01 L1588.70,109.64 L1589.20,110.27 L1589.70,110.91 L1590.20,111.55 L1590.70,112.20 L1591.20,112.85 L1591.70,113.50 L1592.20,114.15 L1592.70,114.81 L1593.20,115.47 L1593.70,116.14 L1594.20,116.81 L1594.70,117.48 L1595.20,118.16 L1595.70,118.84 L1596.20,119.52 L1596.70,120.21 L1597.20,120.90 L1597.70,121.59 L1598.20,122.29 L1598.70,122.99 L1599.20,123.70 L1599.70,124.41 L1600.20,125.12 L1600.70,125.84 L1601.20,126.56 L1601.70,127.28 L1602.20,128.01 L1602.70,128.74 L1603.20,129.48 L1603.70,130.21 L1604.20,130.96 L1604.70,131.70 L1605.20,132.45 L1605.70,133.21 L1606.20,133.96 L1606.70,134.72 L1607.20,135.49 L1607.70,136.26 L1608.20,137.03 L1608.70,137.81 L1609.20,138.58 L1609.70,139.37 L1610.20,140.16 L1610.70,140.95 L1611.20,141.74 L1611.70,142.54 L1612.20,143.34 L1612.70,144.15 L1613.20,144.96 L1613.70,145.77 L1614.20,146.59 L1614.70,147.41 L1615.20,148.24 L1615.70,149.07 L1616.20,149.90 L1616.70,150.74 L1617.20,151.58 L1617.70,152.43 L1618.20,153.28 L1618.70,154.13 L1619.20,154.99 L1619.70,155.85 L1620.20,156.71 L1620.70,157.58 L1621.20,158.46 L1621.70,159.33 L1622.20,160.22 L1622.70,161.10 L1623.20,161.99 L1623.70,162.88 L1624.20,163.78 L1624.70,164.68 L1625.20,165.59 L1625.70,166.50 L1626.20,167.41 L1626.70,168.33 L1627.20,169.25 L1627.70,170.18 L1628.20,171.11 L1628.70,172.04 L1629.20,172.98 L1629.70,173.92 L1630.20,174.87 L1630.70,175.82 L1631.20,176.77 L1631.70,177.73 L1632.20,178.70 L1632.70,179.66 L1633.20,180.64 L1633.70,181.61 L1634.20,182.59 L1634.70,183.58 L1635.20,184.57 L1635.70,185.56 L1636.20,186.56 L1636.70,187.56 L1637.20,188.57 L1637.70,189.58 L1638.20,190.59 L1638.70,191.61 L1639.20,192.64 L1639.70,193.67 L1640.20,194.70 L1640.70,195.74 L1641.20,196.78 L1641.70,197.82 L1642.20,198.87 L1642.70,199.93 L1643.20,200.99 L1643.70,202.05 L1644.20,203.12 L1644.70,204.19 L1645.20,205.27 L1645.70,206.35 L1646.20,207.44 L1646.70,208.53 L1647.20,209.63 L1647.70,210.73 L1648.20,211.83 L1648.70,212.94 L1649.20,214.06 L1649.70,215.18 L1650.20,216.30 L1650.70,217.43 L1651.20,218.56 L1651.70,219.70 L1652.20,220.84 L1652.70,221.99 L1653.20,223.15 L1653.70,224.30 L1654.20,225.46 L1654.70,226.63 L1655.20,227.80 L1655.70,228.98 L1656.20,230.16 L1656.70,231.35 L1657.20,232.54 L1657.70,233.74 L1658.20,234.94 L1658.70,236.14 L1659.20,237.36 L1659.70,238.57 L1660.20,239.79 L1660.70,241.02 L1661.20,242.25 L1661.70,243.49 L1662.20,244.73 L1662.70,245.98 L1663.20,247.23 L1663.70,248.49 L1664.20,249.75 L1664.70,251.02 L1665.20,252.29 L1665.70,253.57 L1666.20,254.85 L1666.70,256.14 L1667.20,257.44 L1667.70,258.74 L1668.20,260.04 L1668.70,261.35 L1669.20,262.67 L1669.70,263.99 L1670.20,265.31 L1670.70,266.65 L1671.20,267.98 L1671.70,269.33 L1672.20,270.68 L1672.70,272.03 L1673.20,273.39 L1673.70,274.76 L1674.20,276.13 L1674.70,277.50 L1675.20,278.89 L1675.70,280.27 L1676.20,281.67 L1676.70,283.07 L1677.20,284.47 L1677.70,285.89 L1678.20,287.30 L1678.70,288.73 L1679.20,290.16 L1679.70,291.59 L1680.20,293.03 L1680.70,294.48 L1681.20,295.93 L1681.70,297.39 L1682.20,298.86 L1682.70,300.33 L1683.20,301.80 L1683.70,303.29 L1684.20,304.78 L1684.70,306.27 L1685.20,307.78 L1685.70,309.29 L1686.20,310.80 L1686.70,312.32 L1687.20,313.85 L1687.70,315.38 L1688.20,316.92 L1688.70,318.47 L1689.20,320.03 L1689.70,321.59 L1690.20,323.15 L1690.70,324.73 L1691.20,326.31 L1691.70,327.89 L1692.20,329.49 L1692.70,331.09 L1693.20,332.70 L1693.70,334.31 L1694.20,335.93 L1694.70,337.56 L1695.20,339.20 L1695.70,340.84 L1696.20,342.49 L1696.70,344.14 L1697.20,345.81 L1697.70,347.48 L1698.20,349.16 L1698.70,350.84 L1699.20,352.53 L1699.70,354.23 L1700.20,355.94 L1700.70,357.66 L1701.20,359.38 L1701.70,361.11 L1702.20,362.85 L1702.70,364.59 L1703.20,366.35 L1703.70,368.11 L1704.20,369.88 L1704.70,371.65 L1705.20,373.44 L1705.70,375.23 L1706.20,377.03 L1706.70,378.84 L1707.20,380.66 L1707.70,382.48 L1708.20,384.31 L1708.70,386.16 L1709.20,388.01 L1709.70,389.86 L1710.20,391.73 L1710.70,393.61 L1711.20,395.49 L1711.70,397.38 L1712.20,399.29 L1712.70,401.20 L1713.20,403.12 L1713.70,405.04 L1714.20,406.98 L1714.70,408.93 L1715.20,410.89 L1715.70,412.85 L1716.20,414.82 L1716.70,416.81 L1717.20,418.80 L1717.70,420.81 L1718.20,422.82 L1718.70,424.84 L1719.20,426.87 L1719.70,428.91 L1720.20,430.97 L1720.70,433.03 L1721.20,435.10 L1721.70,437.18 L1722.20,439.28 L1722.70,441.38 L1723.20,443.49 L1723.70,445.62 L1724.20,447.75 L1724.70,449.90 L1725.20,452.06 L1725.70,454.23 L1726.20,456.40 L1726.70,458.59 L1727.20,460.80 L1727.70,463.01 L1728.20,465.24 L1728.70,467.47 L1729.20,469.72 L1729.70,471.98 L1730.20,474.25 L1730.70,476.54 L1731.20,478.84 L1731.70,481.15 L1732.20,483.47 L1732.70,485.80 L1733.20,488.15 L1733.70,490.51 L1734.20,492.89 L1734.70,495.27 L1735.20,497.67 L1735.70,500.09 L1736.20,502.52 L1736.70,504.96 L1737.20,507.42 L1737.70,509.89 L1738.20,512.37 L1738.70,514.87 L1739.20,517.39 L1739.70,519.92 L1740.20,522.47 L1740.70,525.03 L1741.20,527.60 L1741.70,530.20 L1742.20,532.80 L1742.70,535.43 L1743.20,538.07 L1743.70,540.73 L1744.20,543.40 L1744.70,546.10 L1745.20,548.81 L1745.70,551.54 L1746.20,554.28 L1746.70,557.05 L1747.20,559.83 L1747.70,562.63 L1748.20,565.45 L1748.70,568.29 L1749.20,571.15 L1749.70,574.04 L1750.20,576.94 L1750.70,579.86 L1751.20,582.80 L1751.70,585.77 L1752.20,588.75 L1752.70,591.76 L1753.20,594.80 L1753.70,597.85 L1754.20,600.93 L1754.70,604.03 L1755.20,607.16 L1755.70,610.31 L1756.20,613.49 L1756.70,616.70 L1757.20,619.93 L1757.70,623.19 L1758.20,626.47 L1758.70,629.78 L1759.20,633.13 L1759.70,636.50 L1760.20,639.90 L1760.70,643.33 L1761.20,646.80 L1761.70,650.29 L1762.20,653.82 L1762.70,657.38 L1763.20,660.98 L1763.70,664.61 L1764.20,668.28 L1764.70,671.98 L1765.20,675.72 L1765.70,679.50 L1766.20,683.32 L1766.70,687.18 L1767.20,691.08 L1767.70,695.02 L1768.20,699.01 L1768.70,703.03 L1769.20,707.10 L1769.70,711.21 L1770.20,715.37 L1770.70,719.57 L1771.20,723.81 L1771.70,728.10 L1772.20,732.42 L1772.70,736.79 L1773.20,741.19 L1773.70,745.62 L1774.20,750.07 L1774.70,754.54 L1775.20,759.00 L1775.70,763.45 L1776.20,767.85 L1776.70,772.17 L1777.20,776.36 L1777.70,780.37 L1778.20,784.10 L1778.70,787.46 L1779.20,790.30 L1779.70,792.50 L1780.20,793.90 L1780.70,794.40 L1780.72,794.40 L1781.20,793.96 L1781.70,792.62 L1782.20,790.48 L1782.70,787.67 L1783.20,784.35 L1783.70,780.64 L1784.20,776.65 L1784.70,772.46 L1785.20,768.15 L1785.70,763.75 L1786.20,759.31 L1786.70,754.84 L1787.20,750.38 L1787.70,745.92 L1788.20,741.49 L1788.70,737.09 L1789.20,732.72 L1789.70,728.39 L1790.20,724.11 L1790.70,719.86 L1791.20,715.66 L1791.70,711.50 L1792.20,707.38 L1792.70,703.31" stroke="#008000" stroke-opacity="0.8" stroke-width="4.17" stroke-linejoin="miter" stroke-miterlimit="10"/>
</g>
<rect x="247.2" y="47.9" width="1543.8" height="747.0500000000001" fill="none" stroke="#000" stroke-width="2.22" stroke-linejoin="miter"/>
<g stroke="#000" stroke-width="2.22" fill="none">
<line x1="247.20" y1="794.95" x2="247.20" y2="804.67"/>
<line x1="467.74" y1="794.95" x2="467.74" y2="804.67"/>
<line x1="688.29" y1="794.95" x2="688.29" y2="804.67"/>
<line x1="908.83" y1="794.95" x2="908.83" y2="804.67"/>
<line x1="1129.37" y1="794.95" x2="1129.37" y2="804.67"/>
<line x1="1349.91" y1="794.95" x2="1349.91" y2="804.67"/>
<line x1="1570.46" y1="794.95" x2="1570.46" y2="804.67"/>
<line x1="1791.00" y1="794.95" x2="1791.00" y2="804.67"/>
<line x1="247.2" y1="794.95" x2="237.48" y2="794.95"/>
<line x1="247.2" y1="651.29" x2="237.48" y2="651.29"/>
<line x1="247.2" y1="507.62" x2="237.48" y2="507.62"/>
<line x1="247.2" y1="363.96" x2="237.48" y2="363.96"/>
<line x1="247.2" y1="220.30" x2="237.48" y2="220.30"/>
<line x1="247.2" y1="76.63" x2="237.48" y2="76.63"/>
<line x1="1791.0" y1="794.95" x2="1800.72" y2="794.95"/>
<line x1="1791.0" y1="691.19" x2="1800.72" y2="691.19"/>
<line x1="1791.0" y1="587.44" x2="1800.72" y2="587.44"/>
<line x1="1791.0" y1="483.68" x2="1800.72" y2="483.68"/>
<line x1="1791.0" y1="379.92" x2="1800.72" y2="379.92"/>
<line x1="1791.0" y1="276.17" x2="1800.72" y2="276.17"/>
<line x1="1791.0" y1="172.41" x2="1800.72" y2="172.41"/>
<line x1="1791.0" y1="68.65" x2="1800.72" y2="68.65"/>
</g>
<g opacity="0.999">
<text y="848.20" font-size="48.44" fill="#000"><tspan x="205.56" textLength="82.37" lengthAdjust="spacingAndGlyphs">251</tspan></text>
<text y="848.20" font-size="48.44" fill="#000"><tspan x="426.11" textLength="82.08" lengthAdjust="spacingAndGlyphs">252</tspan></text>
<text y="848.20" font-size="48.44" fill="#000"><tspan x="646.63" textLength="82.69" lengthAdjust="spacingAndGlyphs">253</tspan></text>
<text y="848.20" font-size="48.44" fill="#000"><tspan x="867.16" textLength="83.04" lengthAdjust="spacingAndGlyphs">254</tspan></text>
<text y="848.20" font-size="48.44" fill="#000"><tspan x="1087.73" textLength="82.24" lengthAdjust="spacingAndGlyphs">255</tspan></text>
<text y="848.20" font-size="48.44" fill="#000"><tspan x="1308.24" textLength="83.49" lengthAdjust="spacingAndGlyphs">256</tspan></text>
<text y="848.20" font-size="48.44" fill="#000"><tspan x="1528.80" textLength="82.77" lengthAdjust="spacingAndGlyphs">257</tspan></text>
<text y="848.20" font-size="48.44" fill="#000"><tspan x="1749.33" textLength="83.21" lengthAdjust="spacingAndGlyphs">258</tspan></text>
<text y="811.85" font-size="48.44" fill="#0000ff"><tspan x="107.57" textLength="33.44" lengthAdjust="spacingAndGlyphs">−</tspan><tspan x="144.03" textLength="82.71" lengthAdjust="spacingAndGlyphs">120</tspan></text>
<text y="668.19" font-size="48.44" fill="#0000ff"><tspan x="107.57" textLength="33.44" lengthAdjust="spacingAndGlyphs">−</tspan><tspan x="143.89" textLength="82.15" lengthAdjust="spacingAndGlyphs">115</tspan></text>
<text y="524.52" font-size="48.44" fill="#0000ff"><tspan x="107.57" textLength="33.44" lengthAdjust="spacingAndGlyphs">−</tspan><tspan x="143.84" textLength="83.00" lengthAdjust="spacingAndGlyphs">110</tspan></text>
<text y="380.86" font-size="48.44" fill="#0000ff"><tspan x="107.57" textLength="33.44" lengthAdjust="spacingAndGlyphs">−</tspan><tspan x="144.07" textLength="81.86" lengthAdjust="spacingAndGlyphs">105</tspan></text>
<text y="237.20" font-size="48.44" fill="#0000ff"><tspan x="107.57" textLength="33.44" lengthAdjust="spacingAndGlyphs">−</tspan><tspan x="144.03" textLength="82.71" lengthAdjust="spacingAndGlyphs">100</tspan></text>
<text y="93.53" font-size="48.44" fill="#0000ff"><tspan x="135.85" textLength="33.44" lengthAdjust="spacingAndGlyphs">−</tspan><tspan x="171.72" textLength="54.20" lengthAdjust="spacingAndGlyphs">95</tspan></text>
<text y="811.85" font-size="48.44" fill="#ff0000"><tspan x="1811.54" textLength="26.06" lengthAdjust="spacingAndGlyphs">0</tspan></text>
<text y="708.09" font-size="48.44" fill="#ff0000"><tspan x="1811.26" textLength="53.89" lengthAdjust="spacingAndGlyphs">25</tspan></text>
<text y="604.34" font-size="48.44" fill="#ff0000"><tspan x="1811.92" textLength="54.02" lengthAdjust="spacingAndGlyphs">50</tspan></text>
<text y="500.58" font-size="48.44" fill="#ff0000"><tspan x="1811.62" textLength="53.51" lengthAdjust="spacingAndGlyphs">75</tspan></text>
<text y="396.82" font-size="48.44" fill="#ff0000"><tspan x="1811.55" textLength="82.71" lengthAdjust="spacingAndGlyphs">100</tspan></text>
<text y="293.07" font-size="48.44" fill="#ff0000"><tspan x="1811.59" textLength="81.86" lengthAdjust="spacingAndGlyphs">125</tspan></text>
<text y="189.31" font-size="48.44" fill="#ff0000"><tspan x="1811.55" textLength="82.71" lengthAdjust="spacingAndGlyphs">150</tspan></text>
<text y="85.55" font-size="48.44" fill="#ff0000"><tspan x="1811.59" textLength="81.86" lengthAdjust="spacingAndGlyphs">175</tspan></text>
<text y="901.80" font-size="48.44" fill="#000"><tspan x="812.05" textLength="86.14" lengthAdjust="spacingAndGlyphs">Day</tspan> <tspan x="913.82" textLength="43.34" lengthAdjust="spacingAndGlyphs">of</tspan> <tspan x="969.39" textLength="96.02" lengthAdjust="spacingAndGlyphs">Year</tspan> <tspan x="1079.43" textLength="146.43" lengthAdjust="spacingAndGlyphs">(2022)</tspan></text>
<g transform="translate(84.6,421.43) rotate(-90)"><text y="0.00" font-size="48.44" fill="#000"><tspan x="-273.15" textLength="113.58" lengthAdjust="spacingAndGlyphs">Focal</tspan> <tspan x="-143.90" textLength="121.16" lengthAdjust="spacingAndGlyphs">Plane</tspan> <tspan x="-9.58" textLength="119.29" lengthAdjust="spacingAndGlyphs">Temp</tspan> <tspan x="125.04" textLength="147.84" lengthAdjust="spacingAndGlyphs">(degC)</tspan></text></g>
<g transform="translate(1939,421.43) rotate(-90)"><text y="0.00" font-size="48.44" fill="#000"><tspan x="-214.04" textLength="82.99" lengthAdjust="spacingAndGlyphs">Sun</tspan> <tspan x="-115.93" textLength="126.05" lengthAdjust="spacingAndGlyphs">Angle</tspan> <tspan x="25.14" textLength="188.99" lengthAdjust="spacingAndGlyphs">(degree)</tspan></text></g>
<rect x="1575.3" y="851.6" width="205.8" height="108.8" rx="2.8" ry="2.8" fill="#fff" fill-opacity="0.8" stroke="#cccccc" stroke-opacity="0.8" stroke-width="2.78"/>
<line x1="1584.2" y1="870" x2="1628.6" y2="870" stroke="#0000ff" stroke-width="8.33" stroke-linecap="square"/>
<line x1="1584.2" y1="903.9" x2="1628.6" y2="903.9" stroke="#ff0000" stroke-opacity="0.8" stroke-width="4.17" stroke-linecap="square"/>
<line x1="1584.2" y1="938" x2="1628.6" y2="938" stroke="#008000" stroke-opacity="0.8" stroke-width="4.17" stroke-linecap="square"/>
<text y="877.20" font-size="24.22" fill="#000"><tspan x="1646.68" textLength="56.79" lengthAdjust="spacingAndGlyphs">Focal</tspan> <tspan x="1710.45" textLength="59.65" lengthAdjust="spacingAndGlyphs">Temp</tspan></text>
<text y="911.60" font-size="24.22" fill="#000"><tspan x="1646.81" textLength="41.49" lengthAdjust="spacingAndGlyphs">Sun</tspan> <tspan x="1695.86" textLength="63.03" lengthAdjust="spacingAndGlyphs">Angle</tspan></text>
<text y="946.20" font-size="24.22" fill="#000"><tspan x="1646.52" textLength="86.69" lengthAdjust="spacingAndGlyphs">Altitude</tspan></text>
</g>
</svg></body></html>
